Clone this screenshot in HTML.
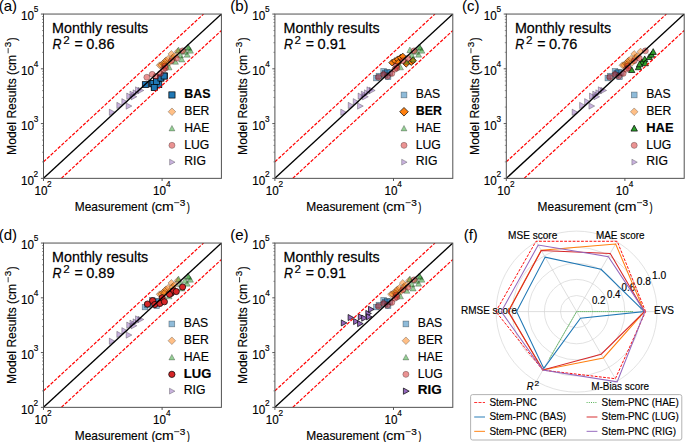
<!DOCTYPE html><html><head><meta charset="utf-8"><style>html,body{margin:0;padding:0;background:#fff;overflow:hidden}svg{display:block}text{font-family:"Liberation Sans",sans-serif;stroke:#000;stroke-width:0.22px;stroke-opacity:0.8}</style></head><body>
<svg width="685" height="442" viewBox="0 0 685 442">
<rect width="685" height="442" fill="#fff"/>
<text x="-1.24" y="10.60" font-size="15.00" font-weight="normal" font-style="normal" fill="#000" style="stroke-width:0.1px">(a)</text>
<text x="230.16" y="10.60" font-size="15.00" font-weight="normal" font-style="normal" fill="#000" style="stroke-width:0.1px">(b)</text>
<text x="461.96" y="10.60" font-size="15.00" font-weight="normal" font-style="normal" fill="#000" style="stroke-width:0.1px">(c)</text>
<text x="-1.24" y="239.60" font-size="15.00" font-weight="normal" font-style="normal" fill="#000" style="stroke-width:0.1px">(d)</text>
<text x="230.16" y="239.60" font-size="15.00" font-weight="normal" font-style="normal" fill="#000" style="stroke-width:0.1px">(e)</text>
<text x="463.66" y="239.60" font-size="15.00" font-weight="normal" font-style="normal" fill="#000" style="stroke-width:0.1px">(f)</text>
<clipPath id="clipa"><rect x="43.5" y="14.05" width="177.9" height="164.3"/></clipPath>
<g clip-path="url(#clipa)">
<rect x="142.30" y="81.65" width="6.00" height="6.00" fill="#1f77b4" stroke="#000" stroke-width="0.7"/>
<rect x="149.00" y="80.85" width="6.00" height="6.00" fill="#1f77b4" stroke="#000" stroke-width="0.7"/>
<rect x="153.40" y="78.85" width="6.00" height="6.00" fill="#1f77b4" stroke="#000" stroke-width="0.7"/>
<rect x="151.40" y="84.05" width="6.00" height="6.00" fill="#1f77b4" stroke="#000" stroke-width="0.7"/>
<rect x="157.80" y="74.95" width="6.00" height="6.00" fill="#1f77b4" stroke="#000" stroke-width="0.7"/>
<rect x="161.30" y="72.95" width="6.00" height="6.00" fill="#1f77b4" stroke="#000" stroke-width="0.7"/>
<rect x="155.80" y="81.65" width="6.00" height="6.00" fill="#1f77b4" stroke="#000" stroke-width="0.7"/>
<rect x="150.00" y="80.55" width="6.00" height="6.00" fill="#1f77b4" stroke="#000" stroke-width="0.7"/>
<rect x="153.50" y="78.55" width="6.00" height="6.00" fill="#1f77b4" stroke="#000" stroke-width="0.7"/>
<rect x="157.90" y="75.05" width="6.00" height="6.00" fill="#1f77b4" stroke="#000" stroke-width="0.7"/>
<rect x="161.10" y="73.05" width="6.00" height="6.00" fill="#1f77b4" stroke="#000" stroke-width="0.7"/>
<rect x="151.20" y="84.55" width="6.00" height="6.00" fill="#1f77b4" stroke="#000" stroke-width="0.7"/>
<path d="M159.60,61.85L163.00,65.25L159.60,68.65L156.20,65.25Z" fill="#ff7f0e" fill-opacity="0.5" stroke="#000" stroke-opacity="0.45" stroke-width="0.6"/>
<path d="M161.10,61.65L164.50,65.05L161.10,68.45L157.70,65.05Z" fill="#ff7f0e" fill-opacity="0.5" stroke="#000" stroke-opacity="0.45" stroke-width="0.6"/>
<path d="M163.00,60.15L166.40,63.55L163.00,66.95L159.60,63.55Z" fill="#ff7f0e" fill-opacity="0.5" stroke="#000" stroke-opacity="0.45" stroke-width="0.6"/>
<path d="M164.70,58.45L168.10,61.85L164.70,65.25L161.30,61.85Z" fill="#ff7f0e" fill-opacity="0.5" stroke="#000" stroke-opacity="0.45" stroke-width="0.6"/>
<path d="M165.90,57.05L169.30,60.45L165.90,63.85L162.50,60.45Z" fill="#ff7f0e" fill-opacity="0.5" stroke="#000" stroke-opacity="0.45" stroke-width="0.6"/>
<path d="M168.20,55.35L171.60,58.75L168.20,62.15L164.80,58.75Z" fill="#ff7f0e" fill-opacity="0.5" stroke="#000" stroke-opacity="0.45" stroke-width="0.6"/>
<path d="M169.40,59.25L172.80,62.65L169.40,66.05L166.00,62.65Z" fill="#ff7f0e" fill-opacity="0.5" stroke="#000" stroke-opacity="0.45" stroke-width="0.6"/>
<path d="M171.40,50.55L174.80,53.95L171.40,57.35L168.00,53.95Z" fill="#ff7f0e" fill-opacity="0.5" stroke="#000" stroke-opacity="0.45" stroke-width="0.6"/>
<path d="M172.20,54.55L175.60,57.95L172.20,61.35L168.80,57.95Z" fill="#ff7f0e" fill-opacity="0.5" stroke="#000" stroke-opacity="0.45" stroke-width="0.6"/>
<path d="M174.50,52.65L177.90,56.05L174.50,59.45L171.10,56.05Z" fill="#ff7f0e" fill-opacity="0.5" stroke="#000" stroke-opacity="0.45" stroke-width="0.6"/>
<path d="M177.70,48.15L181.10,51.55L177.70,54.95L174.30,51.55Z" fill="#ff7f0e" fill-opacity="0.5" stroke="#000" stroke-opacity="0.45" stroke-width="0.6"/>
<path d="M164.50,60.65L167.90,64.05L164.50,67.45L161.10,64.05Z" fill="#ff7f0e" fill-opacity="0.5" stroke="#000" stroke-opacity="0.45" stroke-width="0.6"/>
<path d="M188.80,45.25L191.84,50.85L185.76,50.85Z" fill="#2ca02c" fill-opacity="0.5" stroke="#000" stroke-opacity="0.45" stroke-width="0.6"/>
<path d="M190.40,47.55L193.44,53.15L187.36,53.15Z" fill="#2ca02c" fill-opacity="0.5" stroke="#000" stroke-opacity="0.45" stroke-width="0.6"/>
<path d="M187.20,51.55L190.24,57.15L184.16,57.15Z" fill="#2ca02c" fill-opacity="0.5" stroke="#000" stroke-opacity="0.45" stroke-width="0.6"/>
<path d="M180.50,52.35L183.54,57.95L177.46,57.95Z" fill="#2ca02c" fill-opacity="0.5" stroke="#000" stroke-opacity="0.45" stroke-width="0.6"/>
<path d="M181.70,56.35L184.74,61.95L178.66,61.95Z" fill="#2ca02c" fill-opacity="0.5" stroke="#000" stroke-opacity="0.45" stroke-width="0.6"/>
<path d="M175.40,58.65L178.44,64.25L172.36,64.25Z" fill="#2ca02c" fill-opacity="0.5" stroke="#000" stroke-opacity="0.45" stroke-width="0.6"/>
<path d="M169.00,64.25L172.04,69.85L165.96,69.85Z" fill="#2ca02c" fill-opacity="0.5" stroke="#000" stroke-opacity="0.45" stroke-width="0.6"/>
<path d="M178.50,47.05L181.54,52.65L175.46,52.65Z" fill="#2ca02c" fill-opacity="0.5" stroke="#000" stroke-opacity="0.45" stroke-width="0.6"/>
<path d="M188.00,44.05L191.04,49.65L184.96,49.65Z" fill="#2ca02c" fill-opacity="0.5" stroke="#000" stroke-opacity="0.45" stroke-width="0.6"/>
<path d="M184.80,48.65L187.84,54.25L181.76,54.25Z" fill="#2ca02c" fill-opacity="0.5" stroke="#000" stroke-opacity="0.45" stroke-width="0.6"/>
<circle cx="182.60" cy="50.85" r="3.00" fill="#d62728" fill-opacity="0.5" stroke="#000" stroke-opacity="0.45" stroke-width="0.6"/>
<circle cx="176.50" cy="58.25" r="3.00" fill="#d62728" fill-opacity="0.5" stroke="#000" stroke-opacity="0.45" stroke-width="0.6"/>
<circle cx="171.50" cy="60.75" r="3.00" fill="#d62728" fill-opacity="0.5" stroke="#000" stroke-opacity="0.45" stroke-width="0.6"/>
<circle cx="164.90" cy="66.05" r="3.00" fill="#d62728" fill-opacity="0.5" stroke="#000" stroke-opacity="0.45" stroke-width="0.6"/>
<circle cx="146.80" cy="77.25" r="3.00" fill="#d62728" fill-opacity="0.5" stroke="#000" stroke-opacity="0.45" stroke-width="0.6"/>
<circle cx="152.20" cy="74.35" r="3.00" fill="#d62728" fill-opacity="0.5" stroke="#000" stroke-opacity="0.45" stroke-width="0.6"/>
<circle cx="156.00" cy="76.35" r="3.00" fill="#d62728" fill-opacity="0.5" stroke="#000" stroke-opacity="0.45" stroke-width="0.6"/>
<circle cx="160.40" cy="73.55" r="3.00" fill="#d62728" fill-opacity="0.5" stroke="#000" stroke-opacity="0.45" stroke-width="0.6"/>
<circle cx="163.50" cy="69.25" r="3.00" fill="#d62728" fill-opacity="0.5" stroke="#000" stroke-opacity="0.45" stroke-width="0.6"/>
<circle cx="165.50" cy="68.05" r="3.00" fill="#d62728" fill-opacity="0.5" stroke="#000" stroke-opacity="0.45" stroke-width="0.6"/>
<path d="M115.10,112.25L109.33,115.39L109.33,109.11Z" fill="#9467bd" fill-opacity="0.5" stroke="#000" stroke-opacity="0.45" stroke-width="0.6"/>
<path d="M122.60,105.45L116.83,108.59L116.83,102.31Z" fill="#9467bd" fill-opacity="0.5" stroke="#000" stroke-opacity="0.45" stroke-width="0.6"/>
<path d="M127.60,101.75L121.83,104.89L121.83,98.61Z" fill="#9467bd" fill-opacity="0.5" stroke="#000" stroke-opacity="0.45" stroke-width="0.6"/>
<path d="M131.90,106.05L126.12,109.19L126.12,102.91Z" fill="#9467bd" fill-opacity="0.5" stroke="#000" stroke-opacity="0.45" stroke-width="0.6"/>
<path d="M132.50,96.15L126.72,99.28L126.72,93.01Z" fill="#9467bd" fill-opacity="0.5" stroke="#000" stroke-opacity="0.45" stroke-width="0.6"/>
<path d="M135.70,94.25L129.93,97.39L129.93,91.11Z" fill="#9467bd" fill-opacity="0.5" stroke="#000" stroke-opacity="0.45" stroke-width="0.6"/>
<path d="M138.80,92.95L133.03,96.09L133.03,89.81Z" fill="#9467bd" fill-opacity="0.5" stroke="#000" stroke-opacity="0.45" stroke-width="0.6"/>
<path d="M141.30,89.95L135.53,93.09L135.53,86.81Z" fill="#9467bd" fill-opacity="0.5" stroke="#000" stroke-opacity="0.45" stroke-width="0.6"/>
<path d="M143.80,90.45L138.03,93.59L138.03,87.31Z" fill="#9467bd" fill-opacity="0.5" stroke="#000" stroke-opacity="0.45" stroke-width="0.6"/>
<path d="M136.90,96.75L131.12,99.89L131.12,93.61Z" fill="#9467bd" fill-opacity="0.5" stroke="#000" stroke-opacity="0.45" stroke-width="0.6"/>
<line x1="43.5" y1="178.35000000000002" x2="221.4" y2="14.05" stroke="#000" stroke-width="1.35"/>
<line x1="43.5" y1="161.86" x2="203.55" y2="14.05" stroke="#ff0000" stroke-width="1.2" stroke-dasharray="3.4,1.5"/>
<line x1="61.35" y1="178.35000000000002" x2="221.4" y2="30.54" stroke="#ff0000" stroke-width="1.2" stroke-dasharray="3.4,1.5"/>
</g>
<rect x="43.5" y="14.05" width="177.9" height="164.3" fill="none" stroke="#505050" stroke-width="1"/>
<line x1="40.9" y1="178.35" x2="43.5" y2="178.35" stroke="#444" stroke-width="0.9"/>
<line x1="42.0" y1="161.86" x2="43.5" y2="161.86" stroke="#555" stroke-width="0.6"/>
<line x1="42.0" y1="152.22" x2="43.5" y2="152.22" stroke="#555" stroke-width="0.6"/>
<line x1="42.0" y1="145.38" x2="43.5" y2="145.38" stroke="#555" stroke-width="0.6"/>
<line x1="42.0" y1="140.07" x2="43.5" y2="140.07" stroke="#555" stroke-width="0.6"/>
<line x1="42.0" y1="135.73" x2="43.5" y2="135.73" stroke="#555" stroke-width="0.6"/>
<line x1="42.0" y1="132.07" x2="43.5" y2="132.07" stroke="#555" stroke-width="0.6"/>
<line x1="42.0" y1="128.89" x2="43.5" y2="128.89" stroke="#555" stroke-width="0.6"/>
<line x1="42.0" y1="126.09" x2="43.5" y2="126.09" stroke="#555" stroke-width="0.6"/>
<line x1="40.9" y1="123.58" x2="43.5" y2="123.58" stroke="#444" stroke-width="0.9"/>
<line x1="42.0" y1="107.10" x2="43.5" y2="107.10" stroke="#555" stroke-width="0.6"/>
<line x1="42.0" y1="97.45" x2="43.5" y2="97.45" stroke="#555" stroke-width="0.6"/>
<line x1="42.0" y1="90.61" x2="43.5" y2="90.61" stroke="#555" stroke-width="0.6"/>
<line x1="42.0" y1="85.30" x2="43.5" y2="85.30" stroke="#555" stroke-width="0.6"/>
<line x1="42.0" y1="80.97" x2="43.5" y2="80.97" stroke="#555" stroke-width="0.6"/>
<line x1="42.0" y1="77.30" x2="43.5" y2="77.30" stroke="#555" stroke-width="0.6"/>
<line x1="42.0" y1="74.12" x2="43.5" y2="74.12" stroke="#555" stroke-width="0.6"/>
<line x1="42.0" y1="71.32" x2="43.5" y2="71.32" stroke="#555" stroke-width="0.6"/>
<line x1="40.9" y1="68.82" x2="43.5" y2="68.82" stroke="#444" stroke-width="0.9"/>
<line x1="42.0" y1="52.33" x2="43.5" y2="52.33" stroke="#555" stroke-width="0.6"/>
<line x1="42.0" y1="42.69" x2="43.5" y2="42.69" stroke="#555" stroke-width="0.6"/>
<line x1="42.0" y1="35.84" x2="43.5" y2="35.84" stroke="#555" stroke-width="0.6"/>
<line x1="42.0" y1="30.54" x2="43.5" y2="30.54" stroke="#555" stroke-width="0.6"/>
<line x1="42.0" y1="26.20" x2="43.5" y2="26.20" stroke="#555" stroke-width="0.6"/>
<line x1="42.0" y1="22.53" x2="43.5" y2="22.53" stroke="#555" stroke-width="0.6"/>
<line x1="42.0" y1="19.36" x2="43.5" y2="19.36" stroke="#555" stroke-width="0.6"/>
<line x1="42.0" y1="16.56" x2="43.5" y2="16.56" stroke="#555" stroke-width="0.6"/>
<line x1="40.9" y1="14.05" x2="43.5" y2="14.05" stroke="#444" stroke-width="0.9"/>
<line x1="43.50" y1="178.35000000000002" x2="43.50" y2="180.95000000000002" stroke="#444" stroke-width="0.9"/>
<line x1="162.10" y1="178.35000000000002" x2="162.10" y2="180.95000000000002" stroke="#444" stroke-width="0.9"/>
<text transform="translate(20.92,184.75) scale(0.9300,1)" font-size="12.60" font-weight="normal" font-style="normal" fill="#000">10</text>
<text transform="translate(33.59,176.55) scale(0.9300,1)" font-size="8.90" font-weight="normal" font-style="normal" fill="#000">2</text>
<text transform="translate(20.92,129.98) scale(0.9300,1)" font-size="12.60" font-weight="normal" font-style="normal" fill="#000">10</text>
<text transform="translate(33.69,121.78) scale(0.9300,1)" font-size="8.90" font-weight="normal" font-style="normal" fill="#000">3</text>
<text transform="translate(20.92,75.22) scale(0.9300,1)" font-size="12.60" font-weight="normal" font-style="normal" fill="#000">10</text>
<text transform="translate(33.81,67.02) scale(0.9300,1)" font-size="8.90" font-weight="normal" font-style="normal" fill="#000">4</text>
<text transform="translate(20.92,20.45) scale(0.9300,1)" font-size="12.60" font-weight="normal" font-style="normal" fill="#000">10</text>
<text transform="translate(33.67,12.25) scale(0.9300,1)" font-size="8.90" font-weight="normal" font-style="normal" fill="#000">5</text>
<text transform="translate(34.42,195.00) scale(0.9300,1)" font-size="12.60" font-weight="normal" font-style="normal" fill="#000">10</text>
<text transform="translate(47.09,186.60) scale(0.9300,1)" font-size="8.90" font-weight="normal" font-style="normal" fill="#000">2</text>
<text transform="translate(153.02,195.00) scale(0.9300,1)" font-size="12.60" font-weight="normal" font-style="normal" fill="#000">10</text>
<text transform="translate(165.91,186.60) scale(0.9300,1)" font-size="8.90" font-weight="normal" font-style="normal" fill="#000">4</text>
<text transform="translate(74.82,210.85) scale(1.0018,1)" font-size="11.90" font-weight="normal" font-style="normal" fill="#000" >Measurement</text>
<text x="151.46" y="210.85" font-size="11.90" font-weight="normal" font-style="normal" fill="#000" >(</text>
<text transform="translate(154.90,210.85) scale(1.1799,1)" font-size="11.90" font-weight="normal" font-style="normal" fill="#000" >cm</text>
<line x1="174.20" y1="202.65" x2="179.30" y2="202.65" stroke="#000" stroke-width="0.75"/>
<text transform="translate(179.82,205.95) scale(1.2323,1)" font-size="8.20" font-weight="normal" font-style="normal" fill="#000" >3</text>
<text transform="translate(186.73,210.85) scale(0.7928,1)" font-size="11.90" font-weight="normal" font-style="normal" fill="#000" >)</text>
<g transform="translate(16.00,153.90) rotate(-90)">
<text transform="translate(-1.00,0.00) scale(0.9837,1)" font-size="12.30" font-weight="normal" font-style="normal" fill="#000" >Model Results (cm</text>
<line x1="100.6" y1="-7.85" x2="105.8" y2="-7.85" stroke="#000" stroke-width="0.75"/>
<text transform="translate(106.73,-5.00) scale(1.1506,1)" font-size="8.60" font-weight="normal" font-style="normal" fill="#000" >3</text>
<text transform="translate(112.82,0.00) scale(0.8590,1)" font-size="12.30" font-weight="normal" font-style="normal" fill="#000" >)</text>
</g>
<text x="52.12" y="32.70" font-size="14.30" font-weight="normal" font-style="normal" fill="#000" style="stroke-width:0.3px">Monthly results</text>
<text transform="translate(52.52,48.90) scale(0.8640,1)" font-size="14.50" font-weight="normal" font-style="italic" fill="#000" style="stroke-width:0.3px">R</text>
<text transform="translate(63.22,43.75) scale(1.0589,1)" font-size="11.00" font-weight="normal" font-style="normal" fill="#000" >2</text>
<text transform="translate(74.43,48.90) scale(0.9829,1)" font-size="14.40" font-weight="normal" font-style="normal" fill="#000" style="stroke-width:0.3px">=</text>
<text transform="translate(86.22,48.90) scale(1.0104,1)" font-size="14.40" font-weight="normal" font-style="normal" fill="#000" style="stroke-width:0.3px">0.86</text>
<rect x="168.85" y="91.85" width="6.20" height="6.20" fill="#1f77b4" stroke="#000" stroke-width="0.7"/>
<text transform="translate(184.36,98.25) scale(1.0015,1)" font-size="12.40" font-weight="bold" font-style="normal" fill="#000" >BAS</text>
<path d="M171.95,107.95L175.75,111.75L171.95,115.55L168.15,111.75Z" fill="#ff7f0e" fill-opacity="0.5" stroke="#000" stroke-opacity="0.45" stroke-width="0.6"/>
<text x="184.29" y="115.05" font-size="12.20" font-weight="normal" font-style="normal" fill="#000" >BER</text>
<path d="M171.95,125.45L174.89,130.88L169.00,130.88Z" fill="#2ca02c" fill-opacity="0.5" stroke="#000" stroke-opacity="0.45" stroke-width="0.6"/>
<text x="184.29" y="131.85" font-size="12.20" font-weight="normal" font-style="normal" fill="#000" >HAE</text>
<circle cx="171.95" cy="145.35" r="3.05" fill="#d62728" fill-opacity="0.5" stroke="#000" stroke-opacity="0.45" stroke-width="0.6"/>
<text x="184.29" y="148.65" font-size="12.20" font-weight="normal" font-style="normal" fill="#000" >LUG</text>
<path d="M175.05,162.15L169.62,165.09L169.62,159.21Z" fill="#9467bd" fill-opacity="0.5" stroke="#000" stroke-opacity="0.45" stroke-width="0.6"/>
<text x="184.29" y="165.45" font-size="12.20" font-weight="normal" font-style="normal" fill="#000" >RIG</text>
<clipPath id="clipb"><rect x="274.9" y="14.05" width="177.9" height="164.3"/></clipPath>
<g clip-path="url(#clipb)">
<rect x="373.60" y="75.25" width="5.60" height="5.60" fill="#1f77b4" fill-opacity="0.5" stroke="#000" stroke-opacity="0.45" stroke-width="0.6"/>
<rect x="376.10" y="73.25" width="5.60" height="5.60" fill="#1f77b4" fill-opacity="0.5" stroke="#000" stroke-opacity="0.45" stroke-width="0.6"/>
<rect x="380.80" y="68.45" width="5.60" height="5.60" fill="#1f77b4" fill-opacity="0.5" stroke="#000" stroke-opacity="0.45" stroke-width="0.6"/>
<rect x="382.60" y="70.25" width="5.60" height="5.60" fill="#1f77b4" fill-opacity="0.5" stroke="#000" stroke-opacity="0.45" stroke-width="0.6"/>
<rect x="384.40" y="69.45" width="5.60" height="5.60" fill="#1f77b4" fill-opacity="0.5" stroke="#000" stroke-opacity="0.45" stroke-width="0.6"/>
<rect x="385.30" y="74.05" width="5.60" height="5.60" fill="#1f77b4" fill-opacity="0.5" stroke="#000" stroke-opacity="0.45" stroke-width="0.6"/>
<rect x="387.10" y="69.85" width="5.60" height="5.60" fill="#1f77b4" fill-opacity="0.5" stroke="#000" stroke-opacity="0.45" stroke-width="0.6"/>
<rect x="381.90" y="72.25" width="5.60" height="5.60" fill="#1f77b4" fill-opacity="0.5" stroke="#000" stroke-opacity="0.45" stroke-width="0.6"/>
<path d="M392.10,59.35L395.40,62.65L392.10,65.95L388.80,62.65Z" fill="#ff7f0e" stroke="#000" stroke-width="0.7"/>
<path d="M394.90,57.65L398.20,60.95L394.90,64.25L391.60,60.95Z" fill="#ff7f0e" stroke="#000" stroke-width="0.7"/>
<path d="M397.70,55.95L401.00,59.25L397.70,62.55L394.40,59.25Z" fill="#ff7f0e" stroke="#000" stroke-width="0.7"/>
<path d="M400.60,54.25L403.90,57.55L400.60,60.85L397.30,57.55Z" fill="#ff7f0e" stroke="#000" stroke-width="0.7"/>
<path d="M402.80,53.15L406.10,56.45L402.80,59.75L399.50,56.45Z" fill="#ff7f0e" stroke="#000" stroke-width="0.7"/>
<path d="M406.20,60.55L409.50,63.85L406.20,67.15L402.90,63.85Z" fill="#ff7f0e" stroke="#000" stroke-width="0.7"/>
<path d="M411.30,58.85L414.60,62.15L411.30,65.45L408.00,62.15Z" fill="#ff7f0e" stroke="#000" stroke-width="0.7"/>
<path d="M413.00,57.15L416.30,60.45L413.00,63.75L409.70,60.45Z" fill="#ff7f0e" stroke="#000" stroke-width="0.7"/>
<path d="M398.30,59.35L401.60,62.65L398.30,65.95L395.00,62.65Z" fill="#ff7f0e" stroke="#000" stroke-width="0.7"/>
<path d="M420.20,45.25L423.24,50.85L417.16,50.85Z" fill="#2ca02c" fill-opacity="0.5" stroke="#000" stroke-opacity="0.45" stroke-width="0.6"/>
<path d="M421.80,47.55L424.84,53.15L418.76,53.15Z" fill="#2ca02c" fill-opacity="0.5" stroke="#000" stroke-opacity="0.45" stroke-width="0.6"/>
<path d="M418.60,51.55L421.64,57.15L415.56,57.15Z" fill="#2ca02c" fill-opacity="0.5" stroke="#000" stroke-opacity="0.45" stroke-width="0.6"/>
<path d="M411.90,52.35L414.94,57.95L408.86,57.95Z" fill="#2ca02c" fill-opacity="0.5" stroke="#000" stroke-opacity="0.45" stroke-width="0.6"/>
<path d="M413.10,56.35L416.14,61.95L410.06,61.95Z" fill="#2ca02c" fill-opacity="0.5" stroke="#000" stroke-opacity="0.45" stroke-width="0.6"/>
<path d="M406.80,58.65L409.84,64.25L403.76,64.25Z" fill="#2ca02c" fill-opacity="0.5" stroke="#000" stroke-opacity="0.45" stroke-width="0.6"/>
<path d="M400.40,64.25L403.44,69.85L397.36,69.85Z" fill="#2ca02c" fill-opacity="0.5" stroke="#000" stroke-opacity="0.45" stroke-width="0.6"/>
<path d="M409.90,47.05L412.94,52.65L406.86,52.65Z" fill="#2ca02c" fill-opacity="0.5" stroke="#000" stroke-opacity="0.45" stroke-width="0.6"/>
<path d="M419.40,44.05L422.44,49.65L416.36,49.65Z" fill="#2ca02c" fill-opacity="0.5" stroke="#000" stroke-opacity="0.45" stroke-width="0.6"/>
<path d="M416.20,48.65L419.24,54.25L413.16,54.25Z" fill="#2ca02c" fill-opacity="0.5" stroke="#000" stroke-opacity="0.45" stroke-width="0.6"/>
<circle cx="414.00" cy="50.85" r="3.00" fill="#d62728" fill-opacity="0.5" stroke="#000" stroke-opacity="0.45" stroke-width="0.6"/>
<circle cx="407.90" cy="58.25" r="3.00" fill="#d62728" fill-opacity="0.5" stroke="#000" stroke-opacity="0.45" stroke-width="0.6"/>
<circle cx="402.90" cy="60.75" r="3.00" fill="#d62728" fill-opacity="0.5" stroke="#000" stroke-opacity="0.45" stroke-width="0.6"/>
<circle cx="396.30" cy="66.05" r="3.00" fill="#d62728" fill-opacity="0.5" stroke="#000" stroke-opacity="0.45" stroke-width="0.6"/>
<circle cx="378.20" cy="77.25" r="3.00" fill="#d62728" fill-opacity="0.5" stroke="#000" stroke-opacity="0.45" stroke-width="0.6"/>
<circle cx="383.60" cy="74.35" r="3.00" fill="#d62728" fill-opacity="0.5" stroke="#000" stroke-opacity="0.45" stroke-width="0.6"/>
<circle cx="387.40" cy="76.35" r="3.00" fill="#d62728" fill-opacity="0.5" stroke="#000" stroke-opacity="0.45" stroke-width="0.6"/>
<circle cx="391.80" cy="73.55" r="3.00" fill="#d62728" fill-opacity="0.5" stroke="#000" stroke-opacity="0.45" stroke-width="0.6"/>
<circle cx="394.90" cy="69.25" r="3.00" fill="#d62728" fill-opacity="0.5" stroke="#000" stroke-opacity="0.45" stroke-width="0.6"/>
<circle cx="396.90" cy="68.05" r="3.00" fill="#d62728" fill-opacity="0.5" stroke="#000" stroke-opacity="0.45" stroke-width="0.6"/>
<path d="M346.50,112.25L340.72,115.39L340.72,109.11Z" fill="#9467bd" fill-opacity="0.5" stroke="#000" stroke-opacity="0.45" stroke-width="0.6"/>
<path d="M354.00,105.45L348.22,108.59L348.22,102.31Z" fill="#9467bd" fill-opacity="0.5" stroke="#000" stroke-opacity="0.45" stroke-width="0.6"/>
<path d="M359.00,101.75L353.22,104.89L353.22,98.61Z" fill="#9467bd" fill-opacity="0.5" stroke="#000" stroke-opacity="0.45" stroke-width="0.6"/>
<path d="M363.30,106.05L357.52,109.19L357.52,102.91Z" fill="#9467bd" fill-opacity="0.5" stroke="#000" stroke-opacity="0.45" stroke-width="0.6"/>
<path d="M363.90,96.15L358.12,99.28L358.12,93.01Z" fill="#9467bd" fill-opacity="0.5" stroke="#000" stroke-opacity="0.45" stroke-width="0.6"/>
<path d="M367.10,94.25L361.32,97.39L361.32,91.11Z" fill="#9467bd" fill-opacity="0.5" stroke="#000" stroke-opacity="0.45" stroke-width="0.6"/>
<path d="M370.20,92.95L364.42,96.09L364.42,89.81Z" fill="#9467bd" fill-opacity="0.5" stroke="#000" stroke-opacity="0.45" stroke-width="0.6"/>
<path d="M372.70,89.95L366.92,93.09L366.92,86.81Z" fill="#9467bd" fill-opacity="0.5" stroke="#000" stroke-opacity="0.45" stroke-width="0.6"/>
<path d="M375.20,90.45L369.42,93.59L369.42,87.31Z" fill="#9467bd" fill-opacity="0.5" stroke="#000" stroke-opacity="0.45" stroke-width="0.6"/>
<path d="M368.30,96.75L362.52,99.89L362.52,93.61Z" fill="#9467bd" fill-opacity="0.5" stroke="#000" stroke-opacity="0.45" stroke-width="0.6"/>
<line x1="274.9" y1="178.35000000000002" x2="452.79999999999995" y2="14.05" stroke="#000" stroke-width="1.35"/>
<line x1="274.9" y1="161.86" x2="434.95" y2="14.05" stroke="#ff0000" stroke-width="1.2" stroke-dasharray="3.4,1.5"/>
<line x1="292.75" y1="178.35000000000002" x2="452.79999999999995" y2="30.54" stroke="#ff0000" stroke-width="1.2" stroke-dasharray="3.4,1.5"/>
</g>
<rect x="274.9" y="14.05" width="177.9" height="164.3" fill="none" stroke="#505050" stroke-width="1"/>
<line x1="272.29999999999995" y1="178.35" x2="274.9" y2="178.35" stroke="#444" stroke-width="0.9"/>
<line x1="273.4" y1="161.86" x2="274.9" y2="161.86" stroke="#555" stroke-width="0.6"/>
<line x1="273.4" y1="152.22" x2="274.9" y2="152.22" stroke="#555" stroke-width="0.6"/>
<line x1="273.4" y1="145.38" x2="274.9" y2="145.38" stroke="#555" stroke-width="0.6"/>
<line x1="273.4" y1="140.07" x2="274.9" y2="140.07" stroke="#555" stroke-width="0.6"/>
<line x1="273.4" y1="135.73" x2="274.9" y2="135.73" stroke="#555" stroke-width="0.6"/>
<line x1="273.4" y1="132.07" x2="274.9" y2="132.07" stroke="#555" stroke-width="0.6"/>
<line x1="273.4" y1="128.89" x2="274.9" y2="128.89" stroke="#555" stroke-width="0.6"/>
<line x1="273.4" y1="126.09" x2="274.9" y2="126.09" stroke="#555" stroke-width="0.6"/>
<line x1="272.29999999999995" y1="123.58" x2="274.9" y2="123.58" stroke="#444" stroke-width="0.9"/>
<line x1="273.4" y1="107.10" x2="274.9" y2="107.10" stroke="#555" stroke-width="0.6"/>
<line x1="273.4" y1="97.45" x2="274.9" y2="97.45" stroke="#555" stroke-width="0.6"/>
<line x1="273.4" y1="90.61" x2="274.9" y2="90.61" stroke="#555" stroke-width="0.6"/>
<line x1="273.4" y1="85.30" x2="274.9" y2="85.30" stroke="#555" stroke-width="0.6"/>
<line x1="273.4" y1="80.97" x2="274.9" y2="80.97" stroke="#555" stroke-width="0.6"/>
<line x1="273.4" y1="77.30" x2="274.9" y2="77.30" stroke="#555" stroke-width="0.6"/>
<line x1="273.4" y1="74.12" x2="274.9" y2="74.12" stroke="#555" stroke-width="0.6"/>
<line x1="273.4" y1="71.32" x2="274.9" y2="71.32" stroke="#555" stroke-width="0.6"/>
<line x1="272.29999999999995" y1="68.82" x2="274.9" y2="68.82" stroke="#444" stroke-width="0.9"/>
<line x1="273.4" y1="52.33" x2="274.9" y2="52.33" stroke="#555" stroke-width="0.6"/>
<line x1="273.4" y1="42.69" x2="274.9" y2="42.69" stroke="#555" stroke-width="0.6"/>
<line x1="273.4" y1="35.84" x2="274.9" y2="35.84" stroke="#555" stroke-width="0.6"/>
<line x1="273.4" y1="30.54" x2="274.9" y2="30.54" stroke="#555" stroke-width="0.6"/>
<line x1="273.4" y1="26.20" x2="274.9" y2="26.20" stroke="#555" stroke-width="0.6"/>
<line x1="273.4" y1="22.53" x2="274.9" y2="22.53" stroke="#555" stroke-width="0.6"/>
<line x1="273.4" y1="19.36" x2="274.9" y2="19.36" stroke="#555" stroke-width="0.6"/>
<line x1="273.4" y1="16.56" x2="274.9" y2="16.56" stroke="#555" stroke-width="0.6"/>
<line x1="272.29999999999995" y1="14.05" x2="274.9" y2="14.05" stroke="#444" stroke-width="0.9"/>
<line x1="274.90" y1="178.35000000000002" x2="274.90" y2="180.95000000000002" stroke="#444" stroke-width="0.9"/>
<line x1="393.50" y1="178.35000000000002" x2="393.50" y2="180.95000000000002" stroke="#444" stroke-width="0.9"/>
<text transform="translate(252.32,184.75) scale(0.9300,1)" font-size="12.60" font-weight="normal" font-style="normal" fill="#000">10</text>
<text transform="translate(264.99,176.55) scale(0.9300,1)" font-size="8.90" font-weight="normal" font-style="normal" fill="#000">2</text>
<text transform="translate(252.32,129.98) scale(0.9300,1)" font-size="12.60" font-weight="normal" font-style="normal" fill="#000">10</text>
<text transform="translate(265.09,121.78) scale(0.9300,1)" font-size="8.90" font-weight="normal" font-style="normal" fill="#000">3</text>
<text transform="translate(252.32,75.22) scale(0.9300,1)" font-size="12.60" font-weight="normal" font-style="normal" fill="#000">10</text>
<text transform="translate(265.21,67.02) scale(0.9300,1)" font-size="8.90" font-weight="normal" font-style="normal" fill="#000">4</text>
<text transform="translate(252.32,20.45) scale(0.9300,1)" font-size="12.60" font-weight="normal" font-style="normal" fill="#000">10</text>
<text transform="translate(265.07,12.25) scale(0.9300,1)" font-size="8.90" font-weight="normal" font-style="normal" fill="#000">5</text>
<text transform="translate(265.82,195.00) scale(0.9300,1)" font-size="12.60" font-weight="normal" font-style="normal" fill="#000">10</text>
<text transform="translate(278.49,186.60) scale(0.9300,1)" font-size="8.90" font-weight="normal" font-style="normal" fill="#000">2</text>
<text transform="translate(384.42,195.00) scale(0.9300,1)" font-size="12.60" font-weight="normal" font-style="normal" fill="#000">10</text>
<text transform="translate(397.31,186.60) scale(0.9300,1)" font-size="8.90" font-weight="normal" font-style="normal" fill="#000">4</text>
<text transform="translate(306.22,210.85) scale(1.0018,1)" font-size="11.90" font-weight="normal" font-style="normal" fill="#000" >Measurement</text>
<text x="382.86" y="210.85" font-size="11.90" font-weight="normal" font-style="normal" fill="#000" >(</text>
<text transform="translate(386.30,210.85) scale(1.1799,1)" font-size="11.90" font-weight="normal" font-style="normal" fill="#000" >cm</text>
<line x1="405.60" y1="202.65" x2="410.70" y2="202.65" stroke="#000" stroke-width="0.75"/>
<text transform="translate(411.22,205.95) scale(1.2323,1)" font-size="8.20" font-weight="normal" font-style="normal" fill="#000" >3</text>
<text transform="translate(418.13,210.85) scale(0.7928,1)" font-size="11.90" font-weight="normal" font-style="normal" fill="#000" >)</text>
<g transform="translate(247.40,153.90) rotate(-90)">
<text transform="translate(-1.00,0.00) scale(0.9837,1)" font-size="12.30" font-weight="normal" font-style="normal" fill="#000" >Model Results (cm</text>
<line x1="100.6" y1="-7.85" x2="105.8" y2="-7.85" stroke="#000" stroke-width="0.75"/>
<text transform="translate(106.73,-5.00) scale(1.1506,1)" font-size="8.60" font-weight="normal" font-style="normal" fill="#000" >3</text>
<text transform="translate(112.82,0.00) scale(0.8590,1)" font-size="12.30" font-weight="normal" font-style="normal" fill="#000" >)</text>
</g>
<text x="283.52" y="32.70" font-size="14.30" font-weight="normal" font-style="normal" fill="#000" style="stroke-width:0.3px">Monthly results</text>
<text transform="translate(283.92,48.90) scale(0.8640,1)" font-size="14.50" font-weight="normal" font-style="italic" fill="#000" style="stroke-width:0.3px">R</text>
<text transform="translate(294.62,43.75) scale(1.0589,1)" font-size="11.00" font-weight="normal" font-style="normal" fill="#000" >2</text>
<text transform="translate(305.83,48.90) scale(0.9829,1)" font-size="14.40" font-weight="normal" font-style="normal" fill="#000" style="stroke-width:0.3px">=</text>
<text transform="translate(317.62,48.90) scale(1.0132,1)" font-size="14.40" font-weight="normal" font-style="normal" fill="#000" style="stroke-width:0.3px">0.91</text>
<rect x="401.10" y="92.05" width="5.80" height="5.80" fill="#1f77b4" fill-opacity="0.5" stroke="#000" stroke-opacity="0.45" stroke-width="0.6"/>
<text x="415.79" y="98.25" font-size="12.20" font-weight="normal" font-style="normal" fill="#000" >BAS</text>
<path d="M404.00,107.45L408.30,111.75L404.00,116.05L399.70,111.75Z" fill="#ff7f0e" stroke="#000" stroke-width="0.7"/>
<text transform="translate(415.87,115.05) scale(0.9968,1)" font-size="12.40" font-weight="bold" font-style="normal" fill="#000" >BER</text>
<path d="M404.00,125.45L406.94,130.88L401.06,130.88Z" fill="#2ca02c" fill-opacity="0.5" stroke="#000" stroke-opacity="0.45" stroke-width="0.6"/>
<text x="415.79" y="131.85" font-size="12.20" font-weight="normal" font-style="normal" fill="#000" >HAE</text>
<circle cx="404.00" cy="145.35" r="3.05" fill="#d62728" fill-opacity="0.5" stroke="#000" stroke-opacity="0.45" stroke-width="0.6"/>
<text x="415.79" y="148.65" font-size="12.20" font-weight="normal" font-style="normal" fill="#000" >LUG</text>
<path d="M407.10,162.15L401.68,165.09L401.68,159.21Z" fill="#9467bd" fill-opacity="0.5" stroke="#000" stroke-opacity="0.45" stroke-width="0.6"/>
<text x="415.79" y="165.45" font-size="12.20" font-weight="normal" font-style="normal" fill="#000" >RIG</text>
<clipPath id="clipc"><rect x="506.3" y="14.05" width="177.9" height="164.3"/></clipPath>
<g clip-path="url(#clipc)">
<rect x="605.00" y="75.25" width="5.60" height="5.60" fill="#1f77b4" fill-opacity="0.5" stroke="#000" stroke-opacity="0.45" stroke-width="0.6"/>
<rect x="607.50" y="73.25" width="5.60" height="5.60" fill="#1f77b4" fill-opacity="0.5" stroke="#000" stroke-opacity="0.45" stroke-width="0.6"/>
<rect x="612.20" y="68.45" width="5.60" height="5.60" fill="#1f77b4" fill-opacity="0.5" stroke="#000" stroke-opacity="0.45" stroke-width="0.6"/>
<rect x="614.00" y="70.25" width="5.60" height="5.60" fill="#1f77b4" fill-opacity="0.5" stroke="#000" stroke-opacity="0.45" stroke-width="0.6"/>
<rect x="615.80" y="69.45" width="5.60" height="5.60" fill="#1f77b4" fill-opacity="0.5" stroke="#000" stroke-opacity="0.45" stroke-width="0.6"/>
<rect x="616.70" y="74.05" width="5.60" height="5.60" fill="#1f77b4" fill-opacity="0.5" stroke="#000" stroke-opacity="0.45" stroke-width="0.6"/>
<rect x="618.50" y="69.85" width="5.60" height="5.60" fill="#1f77b4" fill-opacity="0.5" stroke="#000" stroke-opacity="0.45" stroke-width="0.6"/>
<rect x="613.30" y="72.25" width="5.60" height="5.60" fill="#1f77b4" fill-opacity="0.5" stroke="#000" stroke-opacity="0.45" stroke-width="0.6"/>
<path d="M622.40,61.85L625.80,65.25L622.40,68.65L619.00,65.25Z" fill="#ff7f0e" fill-opacity="0.5" stroke="#000" stroke-opacity="0.45" stroke-width="0.6"/>
<path d="M623.90,61.65L627.30,65.05L623.90,68.45L620.50,65.05Z" fill="#ff7f0e" fill-opacity="0.5" stroke="#000" stroke-opacity="0.45" stroke-width="0.6"/>
<path d="M625.80,60.15L629.20,63.55L625.80,66.95L622.40,63.55Z" fill="#ff7f0e" fill-opacity="0.5" stroke="#000" stroke-opacity="0.45" stroke-width="0.6"/>
<path d="M627.50,58.45L630.90,61.85L627.50,65.25L624.10,61.85Z" fill="#ff7f0e" fill-opacity="0.5" stroke="#000" stroke-opacity="0.45" stroke-width="0.6"/>
<path d="M628.70,57.05L632.10,60.45L628.70,63.85L625.30,60.45Z" fill="#ff7f0e" fill-opacity="0.5" stroke="#000" stroke-opacity="0.45" stroke-width="0.6"/>
<path d="M631.00,55.35L634.40,58.75L631.00,62.15L627.60,58.75Z" fill="#ff7f0e" fill-opacity="0.5" stroke="#000" stroke-opacity="0.45" stroke-width="0.6"/>
<path d="M632.20,59.25L635.60,62.65L632.20,66.05L628.80,62.65Z" fill="#ff7f0e" fill-opacity="0.5" stroke="#000" stroke-opacity="0.45" stroke-width="0.6"/>
<path d="M634.20,50.55L637.60,53.95L634.20,57.35L630.80,53.95Z" fill="#ff7f0e" fill-opacity="0.5" stroke="#000" stroke-opacity="0.45" stroke-width="0.6"/>
<path d="M635.00,54.55L638.40,57.95L635.00,61.35L631.60,57.95Z" fill="#ff7f0e" fill-opacity="0.5" stroke="#000" stroke-opacity="0.45" stroke-width="0.6"/>
<path d="M637.30,52.65L640.70,56.05L637.30,59.45L633.90,56.05Z" fill="#ff7f0e" fill-opacity="0.5" stroke="#000" stroke-opacity="0.45" stroke-width="0.6"/>
<path d="M640.50,48.15L643.90,51.55L640.50,54.95L637.10,51.55Z" fill="#ff7f0e" fill-opacity="0.5" stroke="#000" stroke-opacity="0.45" stroke-width="0.6"/>
<path d="M627.30,60.65L630.70,64.05L627.30,67.45L623.90,64.05Z" fill="#ff7f0e" fill-opacity="0.5" stroke="#000" stroke-opacity="0.45" stroke-width="0.6"/>
<path d="M631.70,66.75L634.84,72.52L628.57,72.52Z" fill="#2ca02c" stroke="#000" stroke-width="0.7"/>
<path d="M638.50,63.95L641.63,69.72L635.37,69.72Z" fill="#2ca02c" stroke="#000" stroke-width="0.7"/>
<path d="M641.90,58.85L645.03,64.62L638.76,64.62Z" fill="#2ca02c" stroke="#000" stroke-width="0.7"/>
<path d="M644.70,55.95L647.84,61.73L641.57,61.73Z" fill="#2ca02c" stroke="#000" stroke-width="0.7"/>
<path d="M645.30,59.95L648.43,65.72L642.16,65.72Z" fill="#2ca02c" stroke="#000" stroke-width="0.7"/>
<path d="M649.30,53.75L652.43,59.52L646.16,59.52Z" fill="#2ca02c" stroke="#000" stroke-width="0.7"/>
<path d="M651.50,51.45L654.63,57.23L648.37,57.23Z" fill="#2ca02c" stroke="#000" stroke-width="0.7"/>
<path d="M653.20,48.65L656.34,54.43L650.07,54.43Z" fill="#2ca02c" stroke="#000" stroke-width="0.7"/>
<path d="M639.60,61.05L642.74,66.82L636.47,66.82Z" fill="#2ca02c" stroke="#000" stroke-width="0.7"/>
<circle cx="645.40" cy="50.85" r="3.00" fill="#d62728" fill-opacity="0.5" stroke="#000" stroke-opacity="0.45" stroke-width="0.6"/>
<circle cx="639.30" cy="58.25" r="3.00" fill="#d62728" fill-opacity="0.5" stroke="#000" stroke-opacity="0.45" stroke-width="0.6"/>
<circle cx="634.30" cy="60.75" r="3.00" fill="#d62728" fill-opacity="0.5" stroke="#000" stroke-opacity="0.45" stroke-width="0.6"/>
<circle cx="627.70" cy="66.05" r="3.00" fill="#d62728" fill-opacity="0.5" stroke="#000" stroke-opacity="0.45" stroke-width="0.6"/>
<circle cx="609.60" cy="77.25" r="3.00" fill="#d62728" fill-opacity="0.5" stroke="#000" stroke-opacity="0.45" stroke-width="0.6"/>
<circle cx="615.00" cy="74.35" r="3.00" fill="#d62728" fill-opacity="0.5" stroke="#000" stroke-opacity="0.45" stroke-width="0.6"/>
<circle cx="618.80" cy="76.35" r="3.00" fill="#d62728" fill-opacity="0.5" stroke="#000" stroke-opacity="0.45" stroke-width="0.6"/>
<circle cx="623.20" cy="73.55" r="3.00" fill="#d62728" fill-opacity="0.5" stroke="#000" stroke-opacity="0.45" stroke-width="0.6"/>
<circle cx="626.30" cy="69.25" r="3.00" fill="#d62728" fill-opacity="0.5" stroke="#000" stroke-opacity="0.45" stroke-width="0.6"/>
<circle cx="628.30" cy="68.05" r="3.00" fill="#d62728" fill-opacity="0.5" stroke="#000" stroke-opacity="0.45" stroke-width="0.6"/>
<path d="M577.90,112.25L572.12,115.39L572.12,109.11Z" fill="#9467bd" fill-opacity="0.5" stroke="#000" stroke-opacity="0.45" stroke-width="0.6"/>
<path d="M585.40,105.45L579.62,108.59L579.62,102.31Z" fill="#9467bd" fill-opacity="0.5" stroke="#000" stroke-opacity="0.45" stroke-width="0.6"/>
<path d="M590.40,101.75L584.62,104.89L584.62,98.61Z" fill="#9467bd" fill-opacity="0.5" stroke="#000" stroke-opacity="0.45" stroke-width="0.6"/>
<path d="M594.70,106.05L588.92,109.19L588.92,102.91Z" fill="#9467bd" fill-opacity="0.5" stroke="#000" stroke-opacity="0.45" stroke-width="0.6"/>
<path d="M595.30,96.15L589.52,99.28L589.52,93.01Z" fill="#9467bd" fill-opacity="0.5" stroke="#000" stroke-opacity="0.45" stroke-width="0.6"/>
<path d="M598.50,94.25L592.73,97.39L592.73,91.11Z" fill="#9467bd" fill-opacity="0.5" stroke="#000" stroke-opacity="0.45" stroke-width="0.6"/>
<path d="M601.60,92.95L595.82,96.09L595.82,89.81Z" fill="#9467bd" fill-opacity="0.5" stroke="#000" stroke-opacity="0.45" stroke-width="0.6"/>
<path d="M604.10,89.95L598.32,93.09L598.32,86.81Z" fill="#9467bd" fill-opacity="0.5" stroke="#000" stroke-opacity="0.45" stroke-width="0.6"/>
<path d="M606.60,90.45L600.82,93.59L600.82,87.31Z" fill="#9467bd" fill-opacity="0.5" stroke="#000" stroke-opacity="0.45" stroke-width="0.6"/>
<path d="M599.70,96.75L593.92,99.89L593.92,93.61Z" fill="#9467bd" fill-opacity="0.5" stroke="#000" stroke-opacity="0.45" stroke-width="0.6"/>
<line x1="506.3" y1="178.35000000000002" x2="684.2" y2="14.05" stroke="#000" stroke-width="1.35"/>
<line x1="506.3" y1="161.86" x2="666.35" y2="14.05" stroke="#ff0000" stroke-width="1.2" stroke-dasharray="3.4,1.5"/>
<line x1="524.15" y1="178.35000000000002" x2="684.2" y2="30.54" stroke="#ff0000" stroke-width="1.2" stroke-dasharray="3.4,1.5"/>
</g>
<rect x="506.3" y="14.05" width="177.9" height="164.3" fill="none" stroke="#505050" stroke-width="1"/>
<line x1="503.7" y1="178.35" x2="506.3" y2="178.35" stroke="#444" stroke-width="0.9"/>
<line x1="504.8" y1="161.86" x2="506.3" y2="161.86" stroke="#555" stroke-width="0.6"/>
<line x1="504.8" y1="152.22" x2="506.3" y2="152.22" stroke="#555" stroke-width="0.6"/>
<line x1="504.8" y1="145.38" x2="506.3" y2="145.38" stroke="#555" stroke-width="0.6"/>
<line x1="504.8" y1="140.07" x2="506.3" y2="140.07" stroke="#555" stroke-width="0.6"/>
<line x1="504.8" y1="135.73" x2="506.3" y2="135.73" stroke="#555" stroke-width="0.6"/>
<line x1="504.8" y1="132.07" x2="506.3" y2="132.07" stroke="#555" stroke-width="0.6"/>
<line x1="504.8" y1="128.89" x2="506.3" y2="128.89" stroke="#555" stroke-width="0.6"/>
<line x1="504.8" y1="126.09" x2="506.3" y2="126.09" stroke="#555" stroke-width="0.6"/>
<line x1="503.7" y1="123.58" x2="506.3" y2="123.58" stroke="#444" stroke-width="0.9"/>
<line x1="504.8" y1="107.10" x2="506.3" y2="107.10" stroke="#555" stroke-width="0.6"/>
<line x1="504.8" y1="97.45" x2="506.3" y2="97.45" stroke="#555" stroke-width="0.6"/>
<line x1="504.8" y1="90.61" x2="506.3" y2="90.61" stroke="#555" stroke-width="0.6"/>
<line x1="504.8" y1="85.30" x2="506.3" y2="85.30" stroke="#555" stroke-width="0.6"/>
<line x1="504.8" y1="80.97" x2="506.3" y2="80.97" stroke="#555" stroke-width="0.6"/>
<line x1="504.8" y1="77.30" x2="506.3" y2="77.30" stroke="#555" stroke-width="0.6"/>
<line x1="504.8" y1="74.12" x2="506.3" y2="74.12" stroke="#555" stroke-width="0.6"/>
<line x1="504.8" y1="71.32" x2="506.3" y2="71.32" stroke="#555" stroke-width="0.6"/>
<line x1="503.7" y1="68.82" x2="506.3" y2="68.82" stroke="#444" stroke-width="0.9"/>
<line x1="504.8" y1="52.33" x2="506.3" y2="52.33" stroke="#555" stroke-width="0.6"/>
<line x1="504.8" y1="42.69" x2="506.3" y2="42.69" stroke="#555" stroke-width="0.6"/>
<line x1="504.8" y1="35.84" x2="506.3" y2="35.84" stroke="#555" stroke-width="0.6"/>
<line x1="504.8" y1="30.54" x2="506.3" y2="30.54" stroke="#555" stroke-width="0.6"/>
<line x1="504.8" y1="26.20" x2="506.3" y2="26.20" stroke="#555" stroke-width="0.6"/>
<line x1="504.8" y1="22.53" x2="506.3" y2="22.53" stroke="#555" stroke-width="0.6"/>
<line x1="504.8" y1="19.36" x2="506.3" y2="19.36" stroke="#555" stroke-width="0.6"/>
<line x1="504.8" y1="16.56" x2="506.3" y2="16.56" stroke="#555" stroke-width="0.6"/>
<line x1="503.7" y1="14.05" x2="506.3" y2="14.05" stroke="#444" stroke-width="0.9"/>
<line x1="506.30" y1="178.35000000000002" x2="506.30" y2="180.95000000000002" stroke="#444" stroke-width="0.9"/>
<line x1="624.90" y1="178.35000000000002" x2="624.90" y2="180.95000000000002" stroke="#444" stroke-width="0.9"/>
<text transform="translate(483.72,184.75) scale(0.9300,1)" font-size="12.60" font-weight="normal" font-style="normal" fill="#000">10</text>
<text transform="translate(496.39,176.55) scale(0.9300,1)" font-size="8.90" font-weight="normal" font-style="normal" fill="#000">2</text>
<text transform="translate(483.72,129.98) scale(0.9300,1)" font-size="12.60" font-weight="normal" font-style="normal" fill="#000">10</text>
<text transform="translate(496.49,121.78) scale(0.9300,1)" font-size="8.90" font-weight="normal" font-style="normal" fill="#000">3</text>
<text transform="translate(483.72,75.22) scale(0.9300,1)" font-size="12.60" font-weight="normal" font-style="normal" fill="#000">10</text>
<text transform="translate(496.61,67.02) scale(0.9300,1)" font-size="8.90" font-weight="normal" font-style="normal" fill="#000">4</text>
<text transform="translate(483.72,20.45) scale(0.9300,1)" font-size="12.60" font-weight="normal" font-style="normal" fill="#000">10</text>
<text transform="translate(496.47,12.25) scale(0.9300,1)" font-size="8.90" font-weight="normal" font-style="normal" fill="#000">5</text>
<text transform="translate(497.22,195.00) scale(0.9300,1)" font-size="12.60" font-weight="normal" font-style="normal" fill="#000">10</text>
<text transform="translate(509.89,186.60) scale(0.9300,1)" font-size="8.90" font-weight="normal" font-style="normal" fill="#000">2</text>
<text transform="translate(615.82,195.00) scale(0.9300,1)" font-size="12.60" font-weight="normal" font-style="normal" fill="#000">10</text>
<text transform="translate(628.71,186.60) scale(0.9300,1)" font-size="8.90" font-weight="normal" font-style="normal" fill="#000">4</text>
<text transform="translate(537.62,210.85) scale(1.0018,1)" font-size="11.90" font-weight="normal" font-style="normal" fill="#000" >Measurement</text>
<text x="614.26" y="210.85" font-size="11.90" font-weight="normal" font-style="normal" fill="#000" >(</text>
<text transform="translate(617.70,210.85) scale(1.1799,1)" font-size="11.90" font-weight="normal" font-style="normal" fill="#000" >cm</text>
<line x1="637.00" y1="202.65" x2="642.10" y2="202.65" stroke="#000" stroke-width="0.75"/>
<text transform="translate(642.62,205.95) scale(1.2323,1)" font-size="8.20" font-weight="normal" font-style="normal" fill="#000" >3</text>
<text transform="translate(649.53,210.85) scale(0.7928,1)" font-size="11.90" font-weight="normal" font-style="normal" fill="#000" >)</text>
<g transform="translate(478.80,153.90) rotate(-90)">
<text transform="translate(-1.00,0.00) scale(0.9837,1)" font-size="12.30" font-weight="normal" font-style="normal" fill="#000" >Model Results (cm</text>
<line x1="100.6" y1="-7.85" x2="105.8" y2="-7.85" stroke="#000" stroke-width="0.75"/>
<text transform="translate(106.73,-5.00) scale(1.1506,1)" font-size="8.60" font-weight="normal" font-style="normal" fill="#000" >3</text>
<text transform="translate(112.82,0.00) scale(0.8590,1)" font-size="12.30" font-weight="normal" font-style="normal" fill="#000" >)</text>
</g>
<text x="514.92" y="32.70" font-size="14.30" font-weight="normal" font-style="normal" fill="#000" style="stroke-width:0.3px">Monthly results</text>
<text transform="translate(515.32,48.90) scale(0.8640,1)" font-size="14.50" font-weight="normal" font-style="italic" fill="#000" style="stroke-width:0.3px">R</text>
<text transform="translate(526.02,43.75) scale(1.0589,1)" font-size="11.00" font-weight="normal" font-style="normal" fill="#000" >2</text>
<text transform="translate(537.23,48.90) scale(0.9829,1)" font-size="14.40" font-weight="normal" font-style="normal" fill="#000" style="stroke-width:0.3px">=</text>
<text transform="translate(549.02,48.90) scale(1.0104,1)" font-size="14.40" font-weight="normal" font-style="normal" fill="#000" style="stroke-width:0.3px">0.76</text>
<rect x="631.30" y="92.05" width="5.80" height="5.80" fill="#1f77b4" fill-opacity="0.5" stroke="#000" stroke-opacity="0.45" stroke-width="0.6"/>
<text x="646.19" y="98.25" font-size="12.20" font-weight="normal" font-style="normal" fill="#000" >BAS</text>
<path d="M634.20,107.95L638.00,111.75L634.20,115.55L630.40,111.75Z" fill="#ff7f0e" fill-opacity="0.5" stroke="#000" stroke-opacity="0.45" stroke-width="0.6"/>
<text x="646.19" y="115.05" font-size="12.20" font-weight="normal" font-style="normal" fill="#000" >BER</text>
<path d="M634.20,125.15L637.43,131.10L630.97,131.10Z" fill="#2ca02c" stroke="#000" stroke-width="0.7"/>
<text transform="translate(646.22,131.85) scale(1.0458,1)" font-size="12.40" font-weight="bold" font-style="normal" fill="#000" >HAE</text>
<circle cx="634.20" cy="145.35" r="3.05" fill="#d62728" fill-opacity="0.5" stroke="#000" stroke-opacity="0.45" stroke-width="0.6"/>
<text x="646.19" y="148.65" font-size="12.20" font-weight="normal" font-style="normal" fill="#000" >LUG</text>
<path d="M637.30,162.15L631.88,165.09L631.88,159.21Z" fill="#9467bd" fill-opacity="0.5" stroke="#000" stroke-opacity="0.45" stroke-width="0.6"/>
<text x="646.19" y="165.45" font-size="12.20" font-weight="normal" font-style="normal" fill="#000" >RIG</text>
<clipPath id="clipd"><rect x="43.5" y="243.05" width="177.9" height="164.3"/></clipPath>
<g clip-path="url(#clipd)">
<rect x="142.20" y="304.25" width="5.60" height="5.60" fill="#1f77b4" fill-opacity="0.5" stroke="#000" stroke-opacity="0.45" stroke-width="0.6"/>
<rect x="144.70" y="302.25" width="5.60" height="5.60" fill="#1f77b4" fill-opacity="0.5" stroke="#000" stroke-opacity="0.45" stroke-width="0.6"/>
<rect x="149.40" y="297.45" width="5.60" height="5.60" fill="#1f77b4" fill-opacity="0.5" stroke="#000" stroke-opacity="0.45" stroke-width="0.6"/>
<rect x="151.20" y="299.25" width="5.60" height="5.60" fill="#1f77b4" fill-opacity="0.5" stroke="#000" stroke-opacity="0.45" stroke-width="0.6"/>
<rect x="153.00" y="298.45" width="5.60" height="5.60" fill="#1f77b4" fill-opacity="0.5" stroke="#000" stroke-opacity="0.45" stroke-width="0.6"/>
<rect x="153.90" y="303.05" width="5.60" height="5.60" fill="#1f77b4" fill-opacity="0.5" stroke="#000" stroke-opacity="0.45" stroke-width="0.6"/>
<rect x="155.70" y="298.85" width="5.60" height="5.60" fill="#1f77b4" fill-opacity="0.5" stroke="#000" stroke-opacity="0.45" stroke-width="0.6"/>
<rect x="150.50" y="301.25" width="5.60" height="5.60" fill="#1f77b4" fill-opacity="0.5" stroke="#000" stroke-opacity="0.45" stroke-width="0.6"/>
<path d="M159.60,290.85L163.00,294.25L159.60,297.65L156.20,294.25Z" fill="#ff7f0e" fill-opacity="0.5" stroke="#000" stroke-opacity="0.45" stroke-width="0.6"/>
<path d="M161.10,290.65L164.50,294.05L161.10,297.45L157.70,294.05Z" fill="#ff7f0e" fill-opacity="0.5" stroke="#000" stroke-opacity="0.45" stroke-width="0.6"/>
<path d="M163.00,289.15L166.40,292.55L163.00,295.95L159.60,292.55Z" fill="#ff7f0e" fill-opacity="0.5" stroke="#000" stroke-opacity="0.45" stroke-width="0.6"/>
<path d="M164.70,287.45L168.10,290.85L164.70,294.25L161.30,290.85Z" fill="#ff7f0e" fill-opacity="0.5" stroke="#000" stroke-opacity="0.45" stroke-width="0.6"/>
<path d="M165.90,286.05L169.30,289.45L165.90,292.85L162.50,289.45Z" fill="#ff7f0e" fill-opacity="0.5" stroke="#000" stroke-opacity="0.45" stroke-width="0.6"/>
<path d="M168.20,284.35L171.60,287.75L168.20,291.15L164.80,287.75Z" fill="#ff7f0e" fill-opacity="0.5" stroke="#000" stroke-opacity="0.45" stroke-width="0.6"/>
<path d="M169.40,288.25L172.80,291.65L169.40,295.05L166.00,291.65Z" fill="#ff7f0e" fill-opacity="0.5" stroke="#000" stroke-opacity="0.45" stroke-width="0.6"/>
<path d="M171.40,279.55L174.80,282.95L171.40,286.35L168.00,282.95Z" fill="#ff7f0e" fill-opacity="0.5" stroke="#000" stroke-opacity="0.45" stroke-width="0.6"/>
<path d="M172.20,283.55L175.60,286.95L172.20,290.35L168.80,286.95Z" fill="#ff7f0e" fill-opacity="0.5" stroke="#000" stroke-opacity="0.45" stroke-width="0.6"/>
<path d="M174.50,281.65L177.90,285.05L174.50,288.45L171.10,285.05Z" fill="#ff7f0e" fill-opacity="0.5" stroke="#000" stroke-opacity="0.45" stroke-width="0.6"/>
<path d="M177.70,277.15L181.10,280.55L177.70,283.95L174.30,280.55Z" fill="#ff7f0e" fill-opacity="0.5" stroke="#000" stroke-opacity="0.45" stroke-width="0.6"/>
<path d="M164.50,289.65L167.90,293.05L164.50,296.45L161.10,293.05Z" fill="#ff7f0e" fill-opacity="0.5" stroke="#000" stroke-opacity="0.45" stroke-width="0.6"/>
<path d="M188.80,274.25L191.84,279.85L185.76,279.85Z" fill="#2ca02c" fill-opacity="0.5" stroke="#000" stroke-opacity="0.45" stroke-width="0.6"/>
<path d="M190.40,276.55L193.44,282.15L187.36,282.15Z" fill="#2ca02c" fill-opacity="0.5" stroke="#000" stroke-opacity="0.45" stroke-width="0.6"/>
<path d="M187.20,280.55L190.24,286.15L184.16,286.15Z" fill="#2ca02c" fill-opacity="0.5" stroke="#000" stroke-opacity="0.45" stroke-width="0.6"/>
<path d="M180.50,281.35L183.54,286.95L177.46,286.95Z" fill="#2ca02c" fill-opacity="0.5" stroke="#000" stroke-opacity="0.45" stroke-width="0.6"/>
<path d="M181.70,285.35L184.74,290.95L178.66,290.95Z" fill="#2ca02c" fill-opacity="0.5" stroke="#000" stroke-opacity="0.45" stroke-width="0.6"/>
<path d="M175.40,287.65L178.44,293.25L172.36,293.25Z" fill="#2ca02c" fill-opacity="0.5" stroke="#000" stroke-opacity="0.45" stroke-width="0.6"/>
<path d="M169.00,293.25L172.04,298.85L165.96,298.85Z" fill="#2ca02c" fill-opacity="0.5" stroke="#000" stroke-opacity="0.45" stroke-width="0.6"/>
<path d="M178.50,276.05L181.54,281.65L175.46,281.65Z" fill="#2ca02c" fill-opacity="0.5" stroke="#000" stroke-opacity="0.45" stroke-width="0.6"/>
<path d="M188.00,273.05L191.04,278.65L184.96,278.65Z" fill="#2ca02c" fill-opacity="0.5" stroke="#000" stroke-opacity="0.45" stroke-width="0.6"/>
<path d="M184.80,277.65L187.84,283.25L181.76,283.25Z" fill="#2ca02c" fill-opacity="0.5" stroke="#000" stroke-opacity="0.45" stroke-width="0.6"/>
<circle cx="147.50" cy="304.05" r="3.10" fill="#d62728" stroke="#000" stroke-width="0.7"/>
<circle cx="152.60" cy="300.65" r="3.10" fill="#d62728" stroke="#000" stroke-width="0.7"/>
<circle cx="154.80" cy="304.55" r="3.10" fill="#d62728" stroke="#000" stroke-width="0.7"/>
<circle cx="159.90" cy="303.45" r="3.10" fill="#d62728" stroke="#000" stroke-width="0.7"/>
<circle cx="162.20" cy="297.75" r="3.10" fill="#d62728" stroke="#000" stroke-width="0.7"/>
<circle cx="164.40" cy="301.75" r="3.10" fill="#d62728" stroke="#000" stroke-width="0.7"/>
<circle cx="171.20" cy="293.25" r="3.10" fill="#d62728" stroke="#000" stroke-width="0.7"/>
<circle cx="173.50" cy="290.95" r="3.10" fill="#d62728" stroke="#000" stroke-width="0.7"/>
<circle cx="176.30" cy="291.55" r="3.10" fill="#d62728" stroke="#000" stroke-width="0.7"/>
<circle cx="182.60" cy="287.05" r="3.10" fill="#d62728" stroke="#000" stroke-width="0.7"/>
<circle cx="169.50" cy="294.35" r="3.10" fill="#d62728" stroke="#000" stroke-width="0.7"/>
<path d="M115.10,341.25L109.33,344.38L109.33,338.12Z" fill="#9467bd" fill-opacity="0.5" stroke="#000" stroke-opacity="0.45" stroke-width="0.6"/>
<path d="M122.60,334.45L116.83,337.59L116.83,331.32Z" fill="#9467bd" fill-opacity="0.5" stroke="#000" stroke-opacity="0.45" stroke-width="0.6"/>
<path d="M127.60,330.75L121.83,333.88L121.83,327.62Z" fill="#9467bd" fill-opacity="0.5" stroke="#000" stroke-opacity="0.45" stroke-width="0.6"/>
<path d="M131.90,335.05L126.12,338.19L126.12,331.92Z" fill="#9467bd" fill-opacity="0.5" stroke="#000" stroke-opacity="0.45" stroke-width="0.6"/>
<path d="M132.50,325.15L126.72,328.28L126.72,322.01Z" fill="#9467bd" fill-opacity="0.5" stroke="#000" stroke-opacity="0.45" stroke-width="0.6"/>
<path d="M135.70,323.25L129.93,326.38L129.93,320.12Z" fill="#9467bd" fill-opacity="0.5" stroke="#000" stroke-opacity="0.45" stroke-width="0.6"/>
<path d="M138.80,321.95L133.03,325.09L133.03,318.82Z" fill="#9467bd" fill-opacity="0.5" stroke="#000" stroke-opacity="0.45" stroke-width="0.6"/>
<path d="M141.30,318.95L135.53,322.09L135.53,315.82Z" fill="#9467bd" fill-opacity="0.5" stroke="#000" stroke-opacity="0.45" stroke-width="0.6"/>
<path d="M143.80,319.45L138.03,322.59L138.03,316.32Z" fill="#9467bd" fill-opacity="0.5" stroke="#000" stroke-opacity="0.45" stroke-width="0.6"/>
<path d="M136.90,325.75L131.12,328.88L131.12,322.62Z" fill="#9467bd" fill-opacity="0.5" stroke="#000" stroke-opacity="0.45" stroke-width="0.6"/>
<line x1="43.5" y1="407.35" x2="221.4" y2="243.05" stroke="#000" stroke-width="1.35"/>
<line x1="43.5" y1="390.86" x2="203.55" y2="243.05" stroke="#ff0000" stroke-width="1.2" stroke-dasharray="3.4,1.5"/>
<line x1="61.35" y1="407.35" x2="221.4" y2="259.54" stroke="#ff0000" stroke-width="1.2" stroke-dasharray="3.4,1.5"/>
</g>
<rect x="43.5" y="243.05" width="177.9" height="164.3" fill="none" stroke="#505050" stroke-width="1"/>
<line x1="40.9" y1="407.35" x2="43.5" y2="407.35" stroke="#444" stroke-width="0.9"/>
<line x1="42.0" y1="390.86" x2="43.5" y2="390.86" stroke="#555" stroke-width="0.6"/>
<line x1="42.0" y1="381.22" x2="43.5" y2="381.22" stroke="#555" stroke-width="0.6"/>
<line x1="42.0" y1="374.38" x2="43.5" y2="374.38" stroke="#555" stroke-width="0.6"/>
<line x1="42.0" y1="369.07" x2="43.5" y2="369.07" stroke="#555" stroke-width="0.6"/>
<line x1="42.0" y1="364.73" x2="43.5" y2="364.73" stroke="#555" stroke-width="0.6"/>
<line x1="42.0" y1="361.07" x2="43.5" y2="361.07" stroke="#555" stroke-width="0.6"/>
<line x1="42.0" y1="357.89" x2="43.5" y2="357.89" stroke="#555" stroke-width="0.6"/>
<line x1="42.0" y1="355.09" x2="43.5" y2="355.09" stroke="#555" stroke-width="0.6"/>
<line x1="40.9" y1="352.58" x2="43.5" y2="352.58" stroke="#444" stroke-width="0.9"/>
<line x1="42.0" y1="336.10" x2="43.5" y2="336.10" stroke="#555" stroke-width="0.6"/>
<line x1="42.0" y1="326.45" x2="43.5" y2="326.45" stroke="#555" stroke-width="0.6"/>
<line x1="42.0" y1="319.61" x2="43.5" y2="319.61" stroke="#555" stroke-width="0.6"/>
<line x1="42.0" y1="314.30" x2="43.5" y2="314.30" stroke="#555" stroke-width="0.6"/>
<line x1="42.0" y1="309.97" x2="43.5" y2="309.97" stroke="#555" stroke-width="0.6"/>
<line x1="42.0" y1="306.30" x2="43.5" y2="306.30" stroke="#555" stroke-width="0.6"/>
<line x1="42.0" y1="303.12" x2="43.5" y2="303.12" stroke="#555" stroke-width="0.6"/>
<line x1="42.0" y1="300.32" x2="43.5" y2="300.32" stroke="#555" stroke-width="0.6"/>
<line x1="40.9" y1="297.82" x2="43.5" y2="297.82" stroke="#444" stroke-width="0.9"/>
<line x1="42.0" y1="281.33" x2="43.5" y2="281.33" stroke="#555" stroke-width="0.6"/>
<line x1="42.0" y1="271.69" x2="43.5" y2="271.69" stroke="#555" stroke-width="0.6"/>
<line x1="42.0" y1="264.84" x2="43.5" y2="264.84" stroke="#555" stroke-width="0.6"/>
<line x1="42.0" y1="259.54" x2="43.5" y2="259.54" stroke="#555" stroke-width="0.6"/>
<line x1="42.0" y1="255.20" x2="43.5" y2="255.20" stroke="#555" stroke-width="0.6"/>
<line x1="42.0" y1="251.53" x2="43.5" y2="251.53" stroke="#555" stroke-width="0.6"/>
<line x1="42.0" y1="248.36" x2="43.5" y2="248.36" stroke="#555" stroke-width="0.6"/>
<line x1="42.0" y1="245.56" x2="43.5" y2="245.56" stroke="#555" stroke-width="0.6"/>
<line x1="40.9" y1="243.05" x2="43.5" y2="243.05" stroke="#444" stroke-width="0.9"/>
<line x1="43.50" y1="407.35" x2="43.50" y2="409.95000000000005" stroke="#444" stroke-width="0.9"/>
<line x1="162.10" y1="407.35" x2="162.10" y2="409.95000000000005" stroke="#444" stroke-width="0.9"/>
<text transform="translate(20.92,413.75) scale(0.9300,1)" font-size="12.60" font-weight="normal" font-style="normal" fill="#000">10</text>
<text transform="translate(33.59,405.55) scale(0.9300,1)" font-size="8.90" font-weight="normal" font-style="normal" fill="#000">2</text>
<text transform="translate(20.92,358.98) scale(0.9300,1)" font-size="12.60" font-weight="normal" font-style="normal" fill="#000">10</text>
<text transform="translate(33.69,350.78) scale(0.9300,1)" font-size="8.90" font-weight="normal" font-style="normal" fill="#000">3</text>
<text transform="translate(20.92,304.22) scale(0.9300,1)" font-size="12.60" font-weight="normal" font-style="normal" fill="#000">10</text>
<text transform="translate(33.81,296.02) scale(0.9300,1)" font-size="8.90" font-weight="normal" font-style="normal" fill="#000">4</text>
<text transform="translate(20.92,249.45) scale(0.9300,1)" font-size="12.60" font-weight="normal" font-style="normal" fill="#000">10</text>
<text transform="translate(33.67,241.25) scale(0.9300,1)" font-size="8.90" font-weight="normal" font-style="normal" fill="#000">5</text>
<text transform="translate(34.42,424.00) scale(0.9300,1)" font-size="12.60" font-weight="normal" font-style="normal" fill="#000">10</text>
<text transform="translate(47.09,415.60) scale(0.9300,1)" font-size="8.90" font-weight="normal" font-style="normal" fill="#000">2</text>
<text transform="translate(153.02,424.00) scale(0.9300,1)" font-size="12.60" font-weight="normal" font-style="normal" fill="#000">10</text>
<text transform="translate(165.91,415.60) scale(0.9300,1)" font-size="8.90" font-weight="normal" font-style="normal" fill="#000">4</text>
<text transform="translate(74.82,439.85) scale(1.0018,1)" font-size="11.90" font-weight="normal" font-style="normal" fill="#000" >Measurement</text>
<text x="151.46" y="439.85" font-size="11.90" font-weight="normal" font-style="normal" fill="#000" >(</text>
<text transform="translate(154.90,439.85) scale(1.1799,1)" font-size="11.90" font-weight="normal" font-style="normal" fill="#000" >cm</text>
<line x1="174.20" y1="431.65" x2="179.30" y2="431.65" stroke="#000" stroke-width="0.75"/>
<text transform="translate(179.82,434.95) scale(1.2323,1)" font-size="8.20" font-weight="normal" font-style="normal" fill="#000" >3</text>
<text transform="translate(186.73,439.85) scale(0.7928,1)" font-size="11.90" font-weight="normal" font-style="normal" fill="#000" >)</text>
<g transform="translate(16.00,382.90) rotate(-90)">
<text transform="translate(-1.00,0.00) scale(0.9837,1)" font-size="12.30" font-weight="normal" font-style="normal" fill="#000" >Model Results (cm</text>
<line x1="100.6" y1="-7.85" x2="105.8" y2="-7.85" stroke="#000" stroke-width="0.75"/>
<text transform="translate(106.73,-5.00) scale(1.1506,1)" font-size="8.60" font-weight="normal" font-style="normal" fill="#000" >3</text>
<text transform="translate(112.82,0.00) scale(0.8590,1)" font-size="12.30" font-weight="normal" font-style="normal" fill="#000" >)</text>
</g>
<text x="52.12" y="261.70" font-size="14.30" font-weight="normal" font-style="normal" fill="#000" style="stroke-width:0.3px">Monthly results</text>
<text transform="translate(52.52,277.90) scale(0.8640,1)" font-size="14.50" font-weight="normal" font-style="italic" fill="#000" style="stroke-width:0.3px">R</text>
<text transform="translate(63.22,272.75) scale(1.0589,1)" font-size="11.00" font-weight="normal" font-style="normal" fill="#000" >2</text>
<text transform="translate(74.43,277.90) scale(0.9829,1)" font-size="14.40" font-weight="normal" font-style="normal" fill="#000" style="stroke-width:0.3px">=</text>
<text transform="translate(86.22,277.90) scale(1.0118,1)" font-size="14.40" font-weight="normal" font-style="normal" fill="#000" style="stroke-width:0.3px">0.89</text>
<rect x="168.95" y="321.05" width="5.80" height="5.80" fill="#1f77b4" fill-opacity="0.5" stroke="#000" stroke-opacity="0.45" stroke-width="0.6"/>
<text x="183.79" y="327.25" font-size="12.20" font-weight="normal" font-style="normal" fill="#000" >BAS</text>
<path d="M171.85,336.95L175.65,340.75L171.85,344.55L168.05,340.75Z" fill="#ff7f0e" fill-opacity="0.5" stroke="#000" stroke-opacity="0.45" stroke-width="0.6"/>
<text x="183.79" y="344.05" font-size="12.20" font-weight="normal" font-style="normal" fill="#000" >BER</text>
<path d="M171.85,354.45L174.79,359.88L168.91,359.88Z" fill="#2ca02c" fill-opacity="0.5" stroke="#000" stroke-opacity="0.45" stroke-width="0.6"/>
<text x="183.79" y="360.85" font-size="12.20" font-weight="normal" font-style="normal" fill="#000" >HAE</text>
<circle cx="171.85" cy="374.35" r="3.15" fill="#d62728" stroke="#000" stroke-width="0.7"/>
<text transform="translate(183.82,377.65) scale(1.0508,1)" font-size="12.40" font-weight="bold" font-style="normal" fill="#000" >LUG</text>
<path d="M174.95,391.15L169.53,394.10L169.53,388.21Z" fill="#9467bd" fill-opacity="0.5" stroke="#000" stroke-opacity="0.45" stroke-width="0.6"/>
<text x="183.79" y="394.45" font-size="12.20" font-weight="normal" font-style="normal" fill="#000" >RIG</text>
<clipPath id="clipe"><rect x="274.9" y="243.05" width="177.9" height="164.3"/></clipPath>
<g clip-path="url(#clipe)">
<rect x="373.60" y="304.25" width="5.60" height="5.60" fill="#1f77b4" fill-opacity="0.5" stroke="#000" stroke-opacity="0.45" stroke-width="0.6"/>
<rect x="376.10" y="302.25" width="5.60" height="5.60" fill="#1f77b4" fill-opacity="0.5" stroke="#000" stroke-opacity="0.45" stroke-width="0.6"/>
<rect x="380.80" y="297.45" width="5.60" height="5.60" fill="#1f77b4" fill-opacity="0.5" stroke="#000" stroke-opacity="0.45" stroke-width="0.6"/>
<rect x="382.60" y="299.25" width="5.60" height="5.60" fill="#1f77b4" fill-opacity="0.5" stroke="#000" stroke-opacity="0.45" stroke-width="0.6"/>
<rect x="384.40" y="298.45" width="5.60" height="5.60" fill="#1f77b4" fill-opacity="0.5" stroke="#000" stroke-opacity="0.45" stroke-width="0.6"/>
<rect x="385.30" y="303.05" width="5.60" height="5.60" fill="#1f77b4" fill-opacity="0.5" stroke="#000" stroke-opacity="0.45" stroke-width="0.6"/>
<rect x="387.10" y="298.85" width="5.60" height="5.60" fill="#1f77b4" fill-opacity="0.5" stroke="#000" stroke-opacity="0.45" stroke-width="0.6"/>
<rect x="381.90" y="301.25" width="5.60" height="5.60" fill="#1f77b4" fill-opacity="0.5" stroke="#000" stroke-opacity="0.45" stroke-width="0.6"/>
<path d="M391.00,290.85L394.40,294.25L391.00,297.65L387.60,294.25Z" fill="#ff7f0e" fill-opacity="0.5" stroke="#000" stroke-opacity="0.45" stroke-width="0.6"/>
<path d="M392.50,290.65L395.90,294.05L392.50,297.45L389.10,294.05Z" fill="#ff7f0e" fill-opacity="0.5" stroke="#000" stroke-opacity="0.45" stroke-width="0.6"/>
<path d="M394.40,289.15L397.80,292.55L394.40,295.95L391.00,292.55Z" fill="#ff7f0e" fill-opacity="0.5" stroke="#000" stroke-opacity="0.45" stroke-width="0.6"/>
<path d="M396.10,287.45L399.50,290.85L396.10,294.25L392.70,290.85Z" fill="#ff7f0e" fill-opacity="0.5" stroke="#000" stroke-opacity="0.45" stroke-width="0.6"/>
<path d="M397.30,286.05L400.70,289.45L397.30,292.85L393.90,289.45Z" fill="#ff7f0e" fill-opacity="0.5" stroke="#000" stroke-opacity="0.45" stroke-width="0.6"/>
<path d="M399.60,284.35L403.00,287.75L399.60,291.15L396.20,287.75Z" fill="#ff7f0e" fill-opacity="0.5" stroke="#000" stroke-opacity="0.45" stroke-width="0.6"/>
<path d="M400.80,288.25L404.20,291.65L400.80,295.05L397.40,291.65Z" fill="#ff7f0e" fill-opacity="0.5" stroke="#000" stroke-opacity="0.45" stroke-width="0.6"/>
<path d="M402.80,279.55L406.20,282.95L402.80,286.35L399.40,282.95Z" fill="#ff7f0e" fill-opacity="0.5" stroke="#000" stroke-opacity="0.45" stroke-width="0.6"/>
<path d="M403.60,283.55L407.00,286.95L403.60,290.35L400.20,286.95Z" fill="#ff7f0e" fill-opacity="0.5" stroke="#000" stroke-opacity="0.45" stroke-width="0.6"/>
<path d="M405.90,281.65L409.30,285.05L405.90,288.45L402.50,285.05Z" fill="#ff7f0e" fill-opacity="0.5" stroke="#000" stroke-opacity="0.45" stroke-width="0.6"/>
<path d="M409.10,277.15L412.50,280.55L409.10,283.95L405.70,280.55Z" fill="#ff7f0e" fill-opacity="0.5" stroke="#000" stroke-opacity="0.45" stroke-width="0.6"/>
<path d="M395.90,289.65L399.30,293.05L395.90,296.45L392.50,293.05Z" fill="#ff7f0e" fill-opacity="0.5" stroke="#000" stroke-opacity="0.45" stroke-width="0.6"/>
<path d="M420.20,274.25L423.24,279.85L417.16,279.85Z" fill="#2ca02c" fill-opacity="0.5" stroke="#000" stroke-opacity="0.45" stroke-width="0.6"/>
<path d="M421.80,276.55L424.84,282.15L418.76,282.15Z" fill="#2ca02c" fill-opacity="0.5" stroke="#000" stroke-opacity="0.45" stroke-width="0.6"/>
<path d="M418.60,280.55L421.64,286.15L415.56,286.15Z" fill="#2ca02c" fill-opacity="0.5" stroke="#000" stroke-opacity="0.45" stroke-width="0.6"/>
<path d="M411.90,281.35L414.94,286.95L408.86,286.95Z" fill="#2ca02c" fill-opacity="0.5" stroke="#000" stroke-opacity="0.45" stroke-width="0.6"/>
<path d="M413.10,285.35L416.14,290.95L410.06,290.95Z" fill="#2ca02c" fill-opacity="0.5" stroke="#000" stroke-opacity="0.45" stroke-width="0.6"/>
<path d="M406.80,287.65L409.84,293.25L403.76,293.25Z" fill="#2ca02c" fill-opacity="0.5" stroke="#000" stroke-opacity="0.45" stroke-width="0.6"/>
<path d="M400.40,293.25L403.44,298.85L397.36,298.85Z" fill="#2ca02c" fill-opacity="0.5" stroke="#000" stroke-opacity="0.45" stroke-width="0.6"/>
<path d="M409.90,276.05L412.94,281.65L406.86,281.65Z" fill="#2ca02c" fill-opacity="0.5" stroke="#000" stroke-opacity="0.45" stroke-width="0.6"/>
<path d="M419.40,273.05L422.44,278.65L416.36,278.65Z" fill="#2ca02c" fill-opacity="0.5" stroke="#000" stroke-opacity="0.45" stroke-width="0.6"/>
<path d="M416.20,277.65L419.24,283.25L413.16,283.25Z" fill="#2ca02c" fill-opacity="0.5" stroke="#000" stroke-opacity="0.45" stroke-width="0.6"/>
<circle cx="414.00" cy="279.85" r="3.00" fill="#d62728" fill-opacity="0.5" stroke="#000" stroke-opacity="0.45" stroke-width="0.6"/>
<circle cx="407.90" cy="287.25" r="3.00" fill="#d62728" fill-opacity="0.5" stroke="#000" stroke-opacity="0.45" stroke-width="0.6"/>
<circle cx="402.90" cy="289.75" r="3.00" fill="#d62728" fill-opacity="0.5" stroke="#000" stroke-opacity="0.45" stroke-width="0.6"/>
<circle cx="396.30" cy="295.05" r="3.00" fill="#d62728" fill-opacity="0.5" stroke="#000" stroke-opacity="0.45" stroke-width="0.6"/>
<circle cx="378.20" cy="306.25" r="3.00" fill="#d62728" fill-opacity="0.5" stroke="#000" stroke-opacity="0.45" stroke-width="0.6"/>
<circle cx="383.60" cy="303.35" r="3.00" fill="#d62728" fill-opacity="0.5" stroke="#000" stroke-opacity="0.45" stroke-width="0.6"/>
<circle cx="387.40" cy="305.35" r="3.00" fill="#d62728" fill-opacity="0.5" stroke="#000" stroke-opacity="0.45" stroke-width="0.6"/>
<circle cx="391.80" cy="302.55" r="3.00" fill="#d62728" fill-opacity="0.5" stroke="#000" stroke-opacity="0.45" stroke-width="0.6"/>
<circle cx="394.90" cy="298.25" r="3.00" fill="#d62728" fill-opacity="0.5" stroke="#000" stroke-opacity="0.45" stroke-width="0.6"/>
<circle cx="396.90" cy="297.05" r="3.00" fill="#d62728" fill-opacity="0.5" stroke="#000" stroke-opacity="0.45" stroke-width="0.6"/>
<path d="M346.90,322.95L341.30,325.99L341.30,319.91Z" fill="#9467bd" stroke="#000" stroke-width="0.7"/>
<path d="M353.70,317.55L348.10,320.59L348.10,314.51Z" fill="#9467bd" stroke="#000" stroke-width="0.7"/>
<path d="M359.20,321.55L353.60,324.59L353.60,318.51Z" fill="#9467bd" stroke="#000" stroke-width="0.7"/>
<path d="M363.20,323.65L357.60,326.69L357.60,320.61Z" fill="#9467bd" stroke="#000" stroke-width="0.7"/>
<path d="M363.90,316.85L358.30,319.89L358.30,313.81Z" fill="#9467bd" stroke="#000" stroke-width="0.7"/>
<path d="M367.30,318.15L361.70,321.19L361.70,315.11Z" fill="#9467bd" stroke="#000" stroke-width="0.7"/>
<path d="M371.40,313.45L365.80,316.49L365.80,310.41Z" fill="#9467bd" stroke="#000" stroke-width="0.7"/>
<path d="M372.00,316.85L366.40,319.89L366.40,313.81Z" fill="#9467bd" stroke="#000" stroke-width="0.7"/>
<path d="M374.10,309.35L368.50,312.39L368.50,306.31Z" fill="#9467bd" stroke="#000" stroke-width="0.7"/>
<line x1="274.9" y1="407.35" x2="452.79999999999995" y2="243.05" stroke="#000" stroke-width="1.35"/>
<line x1="274.9" y1="390.86" x2="434.95" y2="243.05" stroke="#ff0000" stroke-width="1.2" stroke-dasharray="3.4,1.5"/>
<line x1="292.75" y1="407.35" x2="452.79999999999995" y2="259.54" stroke="#ff0000" stroke-width="1.2" stroke-dasharray="3.4,1.5"/>
</g>
<rect x="274.9" y="243.05" width="177.9" height="164.3" fill="none" stroke="#505050" stroke-width="1"/>
<line x1="272.29999999999995" y1="407.35" x2="274.9" y2="407.35" stroke="#444" stroke-width="0.9"/>
<line x1="273.4" y1="390.86" x2="274.9" y2="390.86" stroke="#555" stroke-width="0.6"/>
<line x1="273.4" y1="381.22" x2="274.9" y2="381.22" stroke="#555" stroke-width="0.6"/>
<line x1="273.4" y1="374.38" x2="274.9" y2="374.38" stroke="#555" stroke-width="0.6"/>
<line x1="273.4" y1="369.07" x2="274.9" y2="369.07" stroke="#555" stroke-width="0.6"/>
<line x1="273.4" y1="364.73" x2="274.9" y2="364.73" stroke="#555" stroke-width="0.6"/>
<line x1="273.4" y1="361.07" x2="274.9" y2="361.07" stroke="#555" stroke-width="0.6"/>
<line x1="273.4" y1="357.89" x2="274.9" y2="357.89" stroke="#555" stroke-width="0.6"/>
<line x1="273.4" y1="355.09" x2="274.9" y2="355.09" stroke="#555" stroke-width="0.6"/>
<line x1="272.29999999999995" y1="352.58" x2="274.9" y2="352.58" stroke="#444" stroke-width="0.9"/>
<line x1="273.4" y1="336.10" x2="274.9" y2="336.10" stroke="#555" stroke-width="0.6"/>
<line x1="273.4" y1="326.45" x2="274.9" y2="326.45" stroke="#555" stroke-width="0.6"/>
<line x1="273.4" y1="319.61" x2="274.9" y2="319.61" stroke="#555" stroke-width="0.6"/>
<line x1="273.4" y1="314.30" x2="274.9" y2="314.30" stroke="#555" stroke-width="0.6"/>
<line x1="273.4" y1="309.97" x2="274.9" y2="309.97" stroke="#555" stroke-width="0.6"/>
<line x1="273.4" y1="306.30" x2="274.9" y2="306.30" stroke="#555" stroke-width="0.6"/>
<line x1="273.4" y1="303.12" x2="274.9" y2="303.12" stroke="#555" stroke-width="0.6"/>
<line x1="273.4" y1="300.32" x2="274.9" y2="300.32" stroke="#555" stroke-width="0.6"/>
<line x1="272.29999999999995" y1="297.82" x2="274.9" y2="297.82" stroke="#444" stroke-width="0.9"/>
<line x1="273.4" y1="281.33" x2="274.9" y2="281.33" stroke="#555" stroke-width="0.6"/>
<line x1="273.4" y1="271.69" x2="274.9" y2="271.69" stroke="#555" stroke-width="0.6"/>
<line x1="273.4" y1="264.84" x2="274.9" y2="264.84" stroke="#555" stroke-width="0.6"/>
<line x1="273.4" y1="259.54" x2="274.9" y2="259.54" stroke="#555" stroke-width="0.6"/>
<line x1="273.4" y1="255.20" x2="274.9" y2="255.20" stroke="#555" stroke-width="0.6"/>
<line x1="273.4" y1="251.53" x2="274.9" y2="251.53" stroke="#555" stroke-width="0.6"/>
<line x1="273.4" y1="248.36" x2="274.9" y2="248.36" stroke="#555" stroke-width="0.6"/>
<line x1="273.4" y1="245.56" x2="274.9" y2="245.56" stroke="#555" stroke-width="0.6"/>
<line x1="272.29999999999995" y1="243.05" x2="274.9" y2="243.05" stroke="#444" stroke-width="0.9"/>
<line x1="274.90" y1="407.35" x2="274.90" y2="409.95000000000005" stroke="#444" stroke-width="0.9"/>
<line x1="393.50" y1="407.35" x2="393.50" y2="409.95000000000005" stroke="#444" stroke-width="0.9"/>
<text transform="translate(252.32,413.75) scale(0.9300,1)" font-size="12.60" font-weight="normal" font-style="normal" fill="#000">10</text>
<text transform="translate(264.99,405.55) scale(0.9300,1)" font-size="8.90" font-weight="normal" font-style="normal" fill="#000">2</text>
<text transform="translate(252.32,358.98) scale(0.9300,1)" font-size="12.60" font-weight="normal" font-style="normal" fill="#000">10</text>
<text transform="translate(265.09,350.78) scale(0.9300,1)" font-size="8.90" font-weight="normal" font-style="normal" fill="#000">3</text>
<text transform="translate(252.32,304.22) scale(0.9300,1)" font-size="12.60" font-weight="normal" font-style="normal" fill="#000">10</text>
<text transform="translate(265.21,296.02) scale(0.9300,1)" font-size="8.90" font-weight="normal" font-style="normal" fill="#000">4</text>
<text transform="translate(252.32,249.45) scale(0.9300,1)" font-size="12.60" font-weight="normal" font-style="normal" fill="#000">10</text>
<text transform="translate(265.07,241.25) scale(0.9300,1)" font-size="8.90" font-weight="normal" font-style="normal" fill="#000">5</text>
<text transform="translate(265.82,424.00) scale(0.9300,1)" font-size="12.60" font-weight="normal" font-style="normal" fill="#000">10</text>
<text transform="translate(278.49,415.60) scale(0.9300,1)" font-size="8.90" font-weight="normal" font-style="normal" fill="#000">2</text>
<text transform="translate(384.42,424.00) scale(0.9300,1)" font-size="12.60" font-weight="normal" font-style="normal" fill="#000">10</text>
<text transform="translate(397.31,415.60) scale(0.9300,1)" font-size="8.90" font-weight="normal" font-style="normal" fill="#000">4</text>
<text transform="translate(306.22,439.85) scale(1.0018,1)" font-size="11.90" font-weight="normal" font-style="normal" fill="#000" >Measurement</text>
<text x="382.86" y="439.85" font-size="11.90" font-weight="normal" font-style="normal" fill="#000" >(</text>
<text transform="translate(386.30,439.85) scale(1.1799,1)" font-size="11.90" font-weight="normal" font-style="normal" fill="#000" >cm</text>
<line x1="405.60" y1="431.65" x2="410.70" y2="431.65" stroke="#000" stroke-width="0.75"/>
<text transform="translate(411.22,434.95) scale(1.2323,1)" font-size="8.20" font-weight="normal" font-style="normal" fill="#000" >3</text>
<text transform="translate(418.13,439.85) scale(0.7928,1)" font-size="11.90" font-weight="normal" font-style="normal" fill="#000" >)</text>
<g transform="translate(247.40,382.90) rotate(-90)">
<text transform="translate(-1.00,0.00) scale(0.9837,1)" font-size="12.30" font-weight="normal" font-style="normal" fill="#000" >Model Results (cm</text>
<line x1="100.6" y1="-7.85" x2="105.8" y2="-7.85" stroke="#000" stroke-width="0.75"/>
<text transform="translate(106.73,-5.00) scale(1.1506,1)" font-size="8.60" font-weight="normal" font-style="normal" fill="#000" >3</text>
<text transform="translate(112.82,0.00) scale(0.8590,1)" font-size="12.30" font-weight="normal" font-style="normal" fill="#000" >)</text>
</g>
<text x="283.52" y="261.70" font-size="14.30" font-weight="normal" font-style="normal" fill="#000" style="stroke-width:0.3px">Monthly results</text>
<text transform="translate(283.92,277.90) scale(0.8640,1)" font-size="14.50" font-weight="normal" font-style="italic" fill="#000" style="stroke-width:0.3px">R</text>
<text transform="translate(294.62,272.75) scale(1.0589,1)" font-size="11.00" font-weight="normal" font-style="normal" fill="#000" >2</text>
<text transform="translate(305.83,277.90) scale(0.9829,1)" font-size="14.40" font-weight="normal" font-style="normal" fill="#000" style="stroke-width:0.3px">=</text>
<text transform="translate(317.62,277.90) scale(1.0132,1)" font-size="14.40" font-weight="normal" font-style="normal" fill="#000" style="stroke-width:0.3px">0.91</text>
<rect x="403.00" y="321.05" width="5.80" height="5.80" fill="#1f77b4" fill-opacity="0.5" stroke="#000" stroke-opacity="0.45" stroke-width="0.6"/>
<text x="417.79" y="327.25" font-size="12.20" font-weight="normal" font-style="normal" fill="#000" >BAS</text>
<path d="M405.90,336.95L409.70,340.75L405.90,344.55L402.10,340.75Z" fill="#ff7f0e" fill-opacity="0.5" stroke="#000" stroke-opacity="0.45" stroke-width="0.6"/>
<text x="417.79" y="344.05" font-size="12.20" font-weight="normal" font-style="normal" fill="#000" >BER</text>
<path d="M405.90,354.45L408.84,359.88L402.95,359.88Z" fill="#2ca02c" fill-opacity="0.5" stroke="#000" stroke-opacity="0.45" stroke-width="0.6"/>
<text x="417.79" y="360.85" font-size="12.20" font-weight="normal" font-style="normal" fill="#000" >HAE</text>
<circle cx="405.90" cy="374.35" r="3.05" fill="#d62728" fill-opacity="0.5" stroke="#000" stroke-opacity="0.45" stroke-width="0.6"/>
<text x="417.79" y="377.65" font-size="12.20" font-weight="normal" font-style="normal" fill="#000" >LUG</text>
<path d="M409.20,391.15L403.42,394.29L403.42,388.02Z" fill="#9467bd" stroke="#000" stroke-width="0.7"/>
<text transform="translate(417.79,394.45) scale(1.0867,1)" font-size="12.40" font-weight="bold" font-style="normal" fill="#000" >RIG</text>
<circle cx="576.6" cy="311.6" r="16.10" fill="none" stroke="#d6d6d6" stroke-width="0.7"/>
<circle cx="576.6" cy="311.6" r="32.20" fill="none" stroke="#d6d6d6" stroke-width="0.7"/>
<circle cx="576.6" cy="311.6" r="48.30" fill="none" stroke="#d6d6d6" stroke-width="0.7"/>
<circle cx="576.6" cy="311.6" r="64.40" fill="none" stroke="#d6d6d6" stroke-width="0.7"/>
<circle cx="576.6" cy="311.6" r="80.50" fill="none" stroke="#d6d6d6" stroke-width="0.7"/>
<line x1="576.6" y1="311.6" x2="657.10" y2="311.60" stroke="#d0d0d0" stroke-width="0.7"/>
<line x1="576.6" y1="311.6" x2="616.85" y2="241.88" stroke="#d0d0d0" stroke-width="0.7"/>
<line x1="576.6" y1="311.6" x2="536.35" y2="241.88" stroke="#d0d0d0" stroke-width="0.7"/>
<line x1="576.6" y1="311.6" x2="496.10" y2="311.60" stroke="#d0d0d0" stroke-width="0.7"/>
<line x1="576.6" y1="311.6" x2="536.35" y2="381.32" stroke="#d0d0d0" stroke-width="0.7"/>
<line x1="576.6" y1="311.6" x2="616.85" y2="381.32" stroke="#d0d0d0" stroke-width="0.7"/>
<text transform="translate(653.97,314.30) scale(0.9735,1)" font-size="10.30" font-weight="normal" font-style="normal" fill="#000" >EVS</text>
<text transform="translate(595.98,238.80) scale(0.9637,1)" font-size="10.30" font-weight="normal" font-style="normal" fill="#000" >MAE score</text>
<text transform="translate(508.07,238.60) scale(0.9780,1)" font-size="10.30" font-weight="normal" font-style="normal" fill="#000" >MSE score</text>
<text transform="translate(461.08,314.30) scale(0.9682,1)" font-size="10.30" font-weight="normal" font-style="normal" fill="#000" >RMSE score</text>
<text transform="translate(526.82,389.70) scale(0.9086,1)" font-size="10.30" font-weight="normal" font-style="italic" fill="#000" >R</text>
<text transform="translate(534.48,385.90) scale(1.0989,1)" font-size="7.60" font-weight="normal" font-style="normal" fill="#000" >2</text>
<text transform="translate(591.18,390.00) scale(0.9662,1)" font-size="10.30" font-weight="normal" font-style="normal" fill="#000" >M-Bias score</text>
<text transform="translate(591.91,303.80) scale(0.9485,1)" font-size="10.30" font-weight="normal" font-style="normal" fill="#000" >0.2</text>
<text transform="translate(607.01,298.00) scale(0.9397,1)" font-size="10.30" font-weight="normal" font-style="normal" fill="#000" >0.4</text>
<text transform="translate(621.61,291.00) scale(0.9505,1)" font-size="10.30" font-weight="normal" font-style="normal" fill="#000" >0.6</text>
<text transform="translate(636.79,285.10) scale(0.9876,1)" font-size="10.30" font-weight="normal" font-style="normal" fill="#000" >0.8</text>
<text transform="translate(651.93,278.70) scale(0.9956,1)" font-size="10.30" font-weight="normal" font-style="normal" fill="#000" >1.0</text>
<path d="M645.60,311.60L617.20,241.28L536.00,241.28L495.80,311.60L542.80,370.14L615.35,378.72Z" fill="none" stroke="#ff0000" stroke-width="0.95" stroke-opacity="1" stroke-linejoin="miter" stroke-dasharray="2.8,1.4"/>
<path d="M644.40,311.60L601.05,269.25L545.15,257.13L516.60,311.60L543.80,368.41L580.45,318.27Z" fill="none" stroke="#1f77b4" stroke-width="1.05" stroke-opacity="1" stroke-linejoin="miter" />
<path d="M644.40,311.60L615.65,243.96L541.15,250.20L508.00,311.60L542.90,369.97L603.35,357.93Z" fill="none" stroke="#ff7f0e" stroke-width="1.05" stroke-opacity="1" stroke-linejoin="miter" />
<path d="M632.90,311.60L576.60,311.60L576.60,311.60L576.60,311.60L549.05,359.32L576.60,311.60Z" fill="none" stroke="#2ca02c" stroke-width="1.0" stroke-opacity="0.6" stroke-linejoin="miter" stroke-dasharray="1.0,1.1"/>
<path d="M644.40,311.60L610.20,253.40L541.30,250.46L508.40,311.60L542.90,369.97L601.20,354.21Z" fill="none" stroke="#d62728" stroke-width="1.05" stroke-opacity="1" stroke-linejoin="miter" />
<path d="M644.80,311.60L608.35,256.61L538.20,245.09L501.30,311.60L542.80,370.14L617.15,381.83Z" fill="none" stroke="#9467bd" stroke-width="1.05" stroke-opacity="1" stroke-linejoin="miter" />
<rect x="470.6" y="394.6" width="211.2" height="45.4" rx="2" fill="#fff" fill-opacity="0.8" stroke="#aaa" stroke-width="0.9"/>
<line x1="474.2" y1="402.5" x2="485.0" y2="402.5" stroke="#ff0000" stroke-width="1.2" stroke-opacity="0.8" stroke-dasharray="3,1.3"/>
<text transform="translate(489.45,405.70) scale(0.9550,1)" font-size="10.40" font-weight="normal" font-style="normal" fill="#000">Stem-PNC</text>
<line x1="474.2" y1="417.0" x2="485.0" y2="417.0" stroke="#1f77b4" stroke-width="1.2" stroke-opacity="0.8" />
<text transform="translate(489.45,420.20) scale(0.9550,1)" font-size="10.40" font-weight="normal" font-style="normal" fill="#000">Stem-PNC (BAS)</text>
<line x1="474.2" y1="431.4" x2="485.0" y2="431.4" stroke="#ff7f0e" stroke-width="1.2" stroke-opacity="0.8" />
<text transform="translate(489.45,434.60) scale(0.9550,1)" font-size="10.40" font-weight="normal" font-style="normal" fill="#000">Stem-PNC (BER)</text>
<line x1="586.6" y1="402.5" x2="597.4" y2="402.5" stroke="#2ca02c" stroke-width="1.2" stroke-opacity="0.8" stroke-dasharray="1,1.2"/>
<text transform="translate(601.55,405.70) scale(0.9550,1)" font-size="10.40" font-weight="normal" font-style="normal" fill="#000">Stem-PNC (HAE)</text>
<line x1="586.6" y1="417.0" x2="597.4" y2="417.0" stroke="#d62728" stroke-width="1.2" stroke-opacity="0.8" />
<text transform="translate(601.55,420.20) scale(0.9550,1)" font-size="10.40" font-weight="normal" font-style="normal" fill="#000">Stem-PNC (LUG)</text>
<line x1="586.6" y1="431.4" x2="597.4" y2="431.4" stroke="#9467bd" stroke-width="1.2" stroke-opacity="0.8" />
<text transform="translate(601.55,434.60) scale(0.9550,1)" font-size="10.40" font-weight="normal" font-style="normal" fill="#000">Stem-PNC (RIG)</text>
</svg></body></html>
